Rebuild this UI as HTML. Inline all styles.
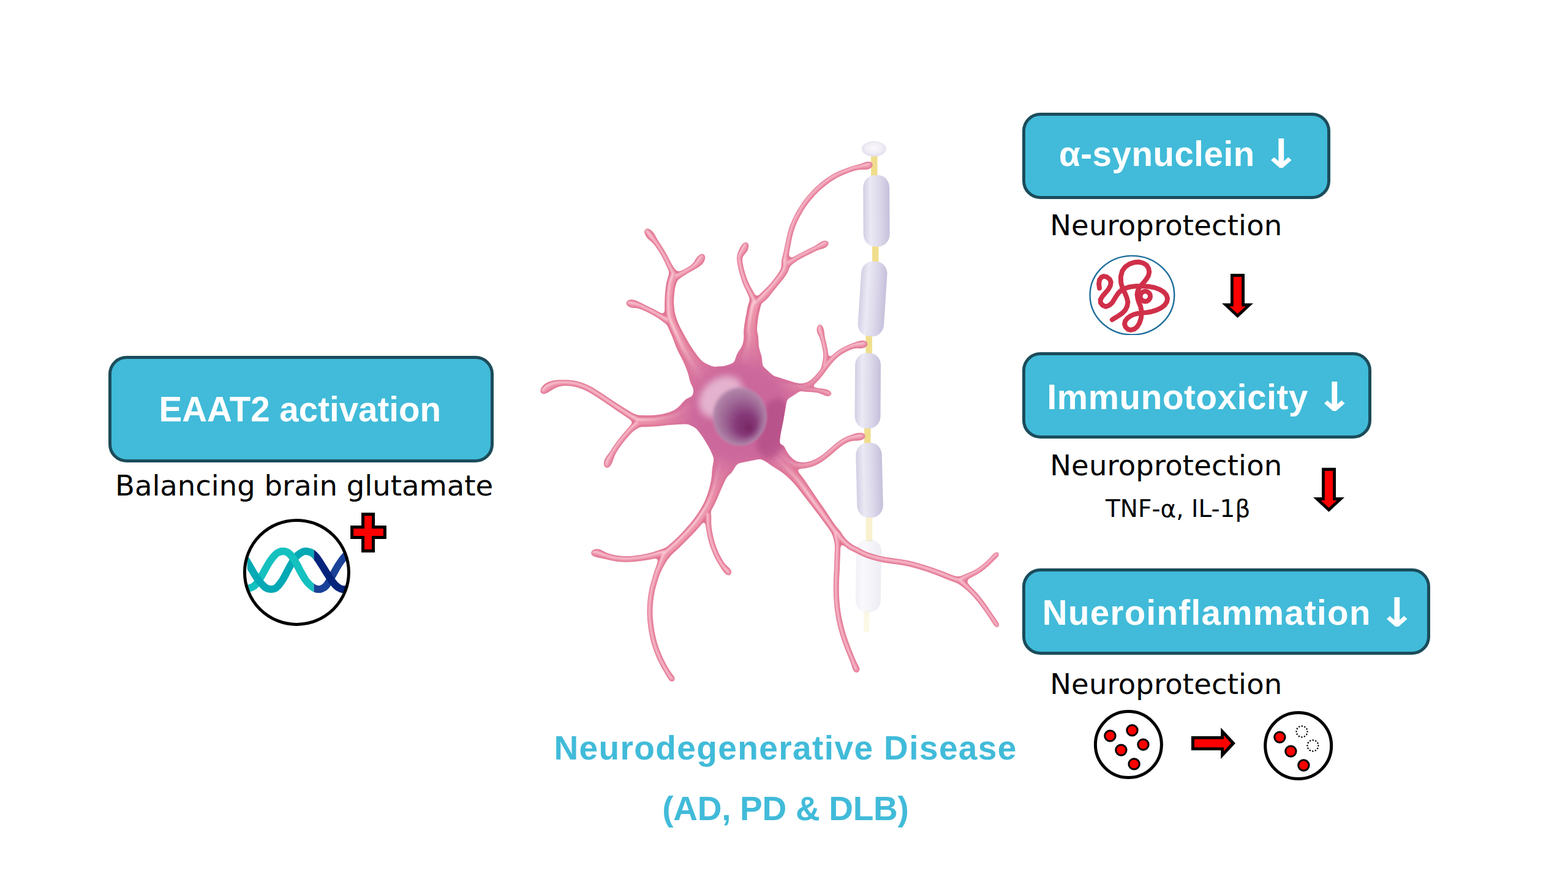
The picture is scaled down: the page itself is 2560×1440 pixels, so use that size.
<!DOCTYPE html>
<html lang="en"><head><meta charset="utf-8"><title>EAAT2 activation – Neurodegenerative Disease</title>
<style>
html,body{margin:0;padding:0;background:#fff}
body{width:2560px;height:1440px;overflow:hidden;position:relative}
svg{position:absolute;left:0;top:0;display:block}
.b{font-family:"Liberation Sans",sans-serif;font-weight:700;fill:#fff}
.r{font-family:"DejaVu Sans","Liberation Sans",sans-serif;font-weight:400;fill:#000}
.t{font-family:"Liberation Sans",sans-serif;font-weight:700;fill:#41bbd9}
.a{font-family:"DejaVu Sans",sans-serif;font-weight:700;fill:#fff;font-size:65.6px}
.box{fill:#41bbd9;stroke:#1b4c5b;stroke-width:5}
</style></head><body>
<svg width="2560" height="1440" viewBox="0 0 2560 1440">
<defs>
<clipPath id="cdna"><circle cx="484.4" cy="934.4" r="84"/></clipPath>
<clipPath id="cl"><rect x="403.7" y="840" width="108.8" height="200"/></clipPath>
<clipPath id="cr"><rect x="512.5" y="840" width="52.7" height="200"/></clipPath>
<clipPath id="cprot"><rect x="1770" y="410" width="160" height="137"/></clipPath>
<radialGradient id="gbulb" cx="0.5" cy="0.45" r="0.6"><stop offset="0" stop-color="#fbfafd"/><stop offset="0.6" stop-color="#efecf5"/><stop offset="1" stop-color="#dcd7e9"/></radialGradient>
<linearGradient id="gmy" x1="0" x2="1" y1="0" y2="0">
<stop offset="0" stop-color="#d3cfe4"/><stop offset="0.28" stop-color="#ebe9f4"/><stop offset="0.62" stop-color="#dcd8ea"/><stop offset="1" stop-color="#c6c0db"/>
</linearGradient>
<filter id="bl1" filterUnits="userSpaceOnUse" x="860" y="220" width="800" height="920"><feGaussianBlur stdDeviation="1.1"/></filter>
<filter id="goo" filterUnits="userSpaceOnUse" x="860" y="220" width="800" height="920" color-interpolation-filters="sRGB"><feGaussianBlur in="SourceGraphic" stdDeviation="3.2" result="b"/><feColorMatrix in="b" mode="matrix" values="1 0 0 0 0 0 1 0 0 0 0 0 1 0 0 0 0 0 9 -4"/></filter>
<filter id="bl2" x="-20%" y="-20%" width="140%" height="140%"><feGaussianBlur stdDeviation="1.6"/></filter>
<filter id="bl6" x="-40%" y="-40%" width="180%" height="180%"><feGaussianBlur stdDeviation="6"/></filter>
<filter id="bl4" x="-30%" y="-30%" width="160%" height="160%"><feGaussianBlur stdDeviation="5"/></filter>
</defs>
<g class="box">
<rect x="179.5" y="583.5" width="624" height="169" rx="27"/>
<rect x="1671.5" y="186.5" width="498" height="136" rx="27"/>
<rect x="1671.5" y="577.5" width="565" height="136" rx="27"/>
<rect x="1671.5" y="930.5" width="661" height="136" rx="27"/>
</g>
<g>
<text class="b" x="259.6" y="688.1" font-size="56.5" letter-spacing="0">EAAT2 activation</text>
<text class="b" x="1729" y="271.2" font-size="56.5" letter-spacing="0.5">α-synuclein <tspan class="a" x="2060.6" y="273.7" letter-spacing="0" textLength="62" lengthAdjust="spacingAndGlyphs">↓</tspan></text>
<text class="b" x="1709.5" y="667.8" font-size="56.5" letter-spacing="0.65">Immunotoxicity <tspan class="a" x="2147.6" y="670.85" letter-spacing="0" textLength="62" lengthAdjust="spacingAndGlyphs">↓</tspan></text>
<text class="b" x="1701.8" y="1020" font-size="56.5" letter-spacing="1.3">Nueroinflammation <tspan class="a" x="2249.6" y="1022.85" letter-spacing="0" textLength="62" lengthAdjust="spacingAndGlyphs">↓</tspan></text>
<text class="r" x="188" y="808.75" font-size="46.5">Balancing brain glutamate</text>
<text class="r" x="1714.2" y="383.9" font-size="46.5" letter-spacing="0.15">Neuroprotection</text>
<text class="r" x="1714.2" y="775.8" font-size="46.5" letter-spacing="0.15">Neuroprotection</text>
<text class="r" x="1714.2" y="1133.2" font-size="46.5" letter-spacing="0.15">Neuroprotection</text>
<text class="r" x="1805" y="843.6" font-size="39">TNF-α, IL-1β</text>
<text class="t" x="904.4" y="1240.4" font-size="55" letter-spacing="1.4">Neurodegenerative Disease</text>
<text class="t" x="1081.3" y="1338.8" font-size="55" letter-spacing="-0.3">(AD, PD &amp; DLB)</text>
</g>
<g>
<g clip-path="url(#cdna)" fill="none" stroke-width="12" stroke-linejoin="round">
<g clip-path="url(#cl)"><path d="M395.0,960.0 397.6,960.3 401.4,960.7 405.0,960.6 408.1,960.0 411.0,959.0 413.8,957.5 416.3,955.6 418.7,953.2 421.2,950.0 424.0,945.6 426.9,940.5 430.0,935.0 433.2,929.2 436.6,923.1 440.0,917.5 443.5,912.6 446.9,908.3 450.0,905.0 452.4,903.0 454.3,902.0 456.2,901.2 458.3,900.5 460.4,900.1 462.5,900.0 464.7,900.2 467.1,900.8 469.4,901.9 471.6,903.4 473.9,905.5 476.2,908.1 478.7,911.5 481.1,915.5 483.8,920.0 486.6,925.2 489.5,930.9 492.5,936.2 495.3,941.2 498.1,945.8 501.2,950.0 504.9,953.9 508.8,957.4 512.5,960.0 515.9,961.5 519.2,962.1 522.5,961.9 525.8,960.9 529.2,959.2 532.5,956.2 535.8,951.7 539.2,945.9 542.5,940.0 545.8,934.2 549.1,928.2 552.5,922.5 556.2,917.0 560.0,911.9 563.8,907.5 567.9,904.2 572.1,901.7 575.0,900.0" stroke="#14c1bf"/><path d="M392.5,900.0 395.5,904.6 399.8,911.2 403.8,917.5 406.9,922.7 409.7,927.7 412.5,932.5 415.4,937.3 418.2,941.9 421.2,946.2 424.7,950.5 428.2,954.4 431.2,957.5 433.4,959.3 435.2,960.3 436.9,961.0 438.8,961.6 440.6,961.8 442.5,961.9 444.4,961.8 446.2,961.6 448.1,961.0 449.9,960.2 451.6,958.9 453.8,956.9 456.4,953.7 459.4,949.8 462.5,945.0 465.7,939.2 469.1,932.6 472.5,926.2 475.8,920.3 479.2,914.7 482.5,910.0 485.9,906.5 489.4,903.8 492.5,901.9 495.1,900.6 497.4,900.0 500.0,900.0 503.2,900.4 506.7,901.4 510.0,903.1 512.9,905.5 515.7,908.5 518.8,912.5 522.3,917.7 526.2,923.9 530.0,930.0 533.8,936.1 537.7,942.2 541.2,947.5 544.4,951.6 547.2,954.9 550.0,957.5 552.8,959.5 555.6,960.9 558.8,961.9 562.7,962.2 567.0,962.0 570.0,961.9" stroke="#03a9b4"/><path d="M456.2,901.2 458.3,900.5 460.4,900.1 462.5,900.0 464.7,900.2 467.1,900.8 469.4,901.9 471.6,903.4 473.9,905.5 476.2,908.1 478.7,911.5 481.1,915.5 483.8,920.0 486.6,925.2 489.5,930.9 492.5,936.2 495.3,941.2 498.1,945.8" stroke="#14c1bf"/></g>
<g clip-path="url(#cr)"><path d="M395.0,960.0 397.6,960.3 401.4,960.7 405.0,960.6 408.1,960.0 411.0,959.0 413.8,957.5 416.3,955.6 418.7,953.2 421.2,950.0 424.0,945.6 426.9,940.5 430.0,935.0 433.2,929.2 436.6,923.1 440.0,917.5 443.5,912.6 446.9,908.3 450.0,905.0 452.4,903.0 454.3,902.0 456.2,901.2 458.3,900.5 460.4,900.1 462.5,900.0 464.7,900.2 467.1,900.8 469.4,901.9 471.6,903.4 473.9,905.5 476.2,908.1 478.7,911.5 481.1,915.5 483.8,920.0 486.6,925.2 489.5,930.9 492.5,936.2 495.3,941.2 498.1,945.8 501.2,950.0 504.9,953.9 508.8,957.4 512.5,960.0 515.9,961.5 519.2,962.1 522.5,961.9 525.8,960.9 529.2,959.2 532.5,956.2 535.8,951.7 539.2,945.9 542.5,940.0 545.8,934.2 549.1,928.2 552.5,922.5 556.2,917.0 560.0,911.9 563.8,907.5 567.9,904.2 572.1,901.7 575.0,900.0" stroke="#1a4298"/><path d="M392.5,900.0 395.5,904.6 399.8,911.2 403.8,917.5 406.9,922.7 409.7,927.7 412.5,932.5 415.4,937.3 418.2,941.9 421.2,946.2 424.7,950.5 428.2,954.4 431.2,957.5 433.4,959.3 435.2,960.3 436.9,961.0 438.8,961.6 440.6,961.8 442.5,961.9 444.4,961.8 446.2,961.6 448.1,961.0 449.9,960.2 451.6,958.9 453.8,956.9 456.4,953.7 459.4,949.8 462.5,945.0 465.7,939.2 469.1,932.6 472.5,926.2 475.8,920.3 479.2,914.7 482.5,910.0 485.9,906.5 489.4,903.8 492.5,901.9 495.1,900.6 497.4,900.0 500.0,900.0 503.2,900.4 506.7,901.4 510.0,903.1 512.9,905.5 515.7,908.5 518.8,912.5 522.3,917.7 526.2,923.9 530.0,930.0 533.8,936.1 537.7,942.2 541.2,947.5 544.4,951.6 547.2,954.9 550.0,957.5 552.8,959.5 555.6,960.9 558.8,961.9 562.7,962.2 567.0,962.0 570.0,961.9" stroke="#04247c"/></g>
</g>
<circle cx="484.4" cy="934.4" r="85" fill="none" stroke="#000" stroke-width="5"/>
<path d="M592.5,839.4H609.5V860.6H628.4V877.5H609.5V899.4H592.5V877.5H574.6V860.6H592.5Z" fill="#fe0000" stroke="#000" stroke-width="5"/>
</g>
<g><polygon points="2009.0,447.0 2032.0,447.0 2032.0,495.3 2046.0,495.3 2020.5,519.0 1995.0,495.3 2009.0,495.3" fill="#000"/><polygon points="2013.8,452.0 2027.2,452.0 2027.2,500.3 2033.7,500.3 2020.5,512.3 2007.3,500.3 2013.8,500.3" fill="#fe0000"/><polygon points="2158.0,763.8 2181.0,763.8 2181.0,812.1 2195.0,812.1 2169.5,835.8 2144.0,812.1 2158.0,812.1" fill="#000"/><polygon points="2162.8,768.8 2176.2,768.8 2176.2,817.1 2182.7,817.1 2169.5,829.1 2156.3,817.1 2162.8,817.1" fill="#fe0000"/>
<polygon points="1945,1202 1993.2,1202 1993.2,1188 2017,1213.5 1993.2,1239 1993.2,1225 1945,1225" fill="#000"/>
<polygon points="1950,1206.8 1998,1206.8 1998,1200.5 2010,1213.5 1998,1226.5 1998,1220.2 1950,1220.2" fill="#fe0000"/>
</g>
<g stroke="#000">
<circle cx="1842.4" cy="1215.6" r="54" fill="#fff" stroke-width="5"/>
<circle cx="2119.7" cy="1217.5" r="54" fill="#fff" stroke-width="5"/>
<g fill="#fe0000" stroke-width="3">
<circle cx="1812.4" cy="1201.4" r="8.7"/><circle cx="1848.5" cy="1192.4" r="8.7"/><circle cx="1866.5" cy="1215.6" r="8.7"/><circle cx="1830.4" cy="1224.6" r="8.7"/><circle cx="1851.6" cy="1247.4" r="8.7"/>
<circle cx="2089.4" cy="1203.6" r="8.7"/><circle cx="2107.4" cy="1226.6" r="8.7"/><circle cx="2128.4" cy="1249.5" r="8.7"/>
</g>
<g fill="none" stroke-width="2.5" stroke-dasharray="0.1 4.61" stroke-linecap="round">
<circle cx="2125.5" cy="1194.4" r="9"/><circle cx="2143.4" cy="1217.4" r="9"/>
</g>
</g>
<g clip-path="url(#cprot)"><ellipse cx="1848.4" cy="482" rx="68.9" ry="64.4" fill="#fff" stroke="#1b6d9c" stroke-width="2.4"/><g fill="none" stroke="#d02f49" stroke-width="7.9" stroke-linecap="round" stroke-linejoin="round"><path d="M1815.8,522.0 1821.1,518.7 1827.0,515.0 1832.5,511.0 1837.0,506.5 1840.1,500.5 1841.4,493.3 1839.6,485.7 1836.6,478.5 1833.0,471.5 1830.2,461.9 1829.8,451.8 1832.3,442.3 1837.1,435.7 1844.1,431.0 1852.3,428.3 1859.8,427.8 1866.5,429.5 1872.1,433.1 1875.3,438.4 1876.3,444.0 1875.2,449.6 1872.0,455.2 1868.0,460.4 1863.8,465.2 1860.0,470.0 1857.5,475.1 1856.5,480.8 1857.6,487.8 1859.7,494.5 1862.2,500.6 1863.5,506.8 1863.7,513.4 1862.7,520.4 1860.2,527.7 1856.7,533.4 1852.3,537.1 1846.7,538.8 1841.5,537.6 1837.7,534.0 1836.0,529.2 1837.1,524.2 1840.8,519.4 1846.2,515.6 1852.2,513.0 1858.5,511.6 1865.4,510.8 1872.4,510.1 1879.4,509.0 1887.9,506.4 1895.4,502.9 1901.2,498.5 1905.0,493.1 1906.1,487.4 1904.4,481.9 1900.1,476.8 1893.4,472.6 1884.6,469.4 1874.3,467.7 1863.6,467.1 1853.3,467.3 1844.7,468.4 1837.1,470.7 1830.4,474.1 1826.0,478.4 1822.4,483.5 1819.0,489.2 1815.7,494.3 1811.2,498.4 1805.4,500.6 1800.1,498.4 1796.9,494.3 1796.6,489.2 1800.0,483.6 1804.7,478.1 1809.6,472.5 1812.9,466.1 1813.7,460.4 1811.7,455.8 1806.9,452.1 1802.1,451.0 1798.1,452.7 1795.0,457.1 1794.1,463.6 1795.0,470.4"/><circle cx="1869.8" cy="483.8" r="8.2"/></g></g>
<g id="neuron"><g fill="none" stroke="#f0de8c" stroke-width="10.5" stroke-linecap="butt">
<path d="M1427.3,252V290"/><path d="M1429.2,400V430"/><path d="M1418.6,546V580"/><path d="M1416.3,696V727"/>
<path d="M1419,843V884" opacity="0.42"/><path d="M1415,998L1414.6,1032" opacity="0.22" stroke-width="9"/>
</g>
<ellipse cx="1426.8" cy="243" rx="20" ry="12.5" fill="url(#gbulb)"/>
<g transform="translate(1430.6,286.0) rotate(-0.30)" opacity="1.0"><rect x="-21.5" y="0" width="43.0" height="116.5" rx="18.5" ry="20.4" fill="url(#gmy)"/></g>
<g transform="translate(1428.5,426.7) rotate(3.74)" opacity="1.0"><rect x="-21.2" y="0" width="42.5" height="122.6" rx="18.3" ry="20.2" fill="url(#gmy)"/></g>
<g transform="translate(1417.2,576.4) rotate(0.37)" opacity="1.0"><rect x="-21.0" y="0" width="42.0" height="123.1" rx="18.1" ry="19.9" fill="url(#gmy)"/></g>
<g transform="translate(1418.0,723.0) rotate(-1.41)" opacity="1.0"><rect x="-21.2" y="0" width="42.5" height="122.0" rx="18.3" ry="20.2" fill="url(#gmy)"/></g>
<g transform="translate(1418.8,880.8) rotate(0.87)" opacity="0.3"><rect x="-20.5" y="0" width="41.0" height="118.6" rx="17.6" ry="19.5" fill="url(#gmy)"/></g><defs><g id="nb"><path d="M1052.4,381 1053.4,383.1 1054.8,386.2 1056.7,389.1 1059.1,391.2 1061.8,393.1 1064.6,395.4 1067.2,398.4 1069.9,401.8 1072.7,405.8 1075.7,410.5 1078.9,415.8 1081.9,421.1 1084.6,426.3 1087.1,431.7 1089.4,436.7 1091.6,441.6 1093.5,446 1094.7,449.1 1096.7,451.2 1099.5,452 1102.4,451.3 1104.5,449.4 1105.3,446.6 1104.6,443.7 1102.8,441 1100.2,437 1097.5,432.6 1094.9,427.9 1092.2,422.5 1089.4,417 1086.2,411.5 1082.9,406.1 1079.8,401.1 1077,396.8 1074.5,393.1 1072.3,389.6 1070.6,386.2 1069.2,383 1067.7,380.3 1065.4,377.9 1062.9,375.8 1061,374.3 1058.8,372.6 1056,372.2 1053.4,373.3 1051.7,375.6 1051.3,378.4Z"/><path d="M1141.8,416.3 1140.4,417.6 1138.6,419.2 1136.9,421 1135.4,423.5 1134,426.5 1132.2,429.2 1130,431.4 1127.2,433.6 1124.1,435.7 1120.6,437.8 1116.9,439.8 1113.1,441.7 1108.9,443.6 1104.7,445.4 1101.7,446.6 1099.6,448.6 1098.8,451.4 1099.4,454.2 1101.4,456.3 1104.2,457.2 1107,456.5 1109.7,454.7 1113.6,452.1 1117.5,449.6 1121.1,447.3 1124.8,445.1 1128.4,443 1131.9,441.1 1135.5,439.2 1139,437.1 1142.5,434.7 1145.8,432.2 1148.4,429.6 1150.1,426.6 1150.9,423.7 1151.3,421.8 1152,419 1151.3,416.3 1149.3,414.3 1146.5,413.6 1143.8,414.3Z"/><path d="M1092.6,446.5 1091.4,449.9 1089.7,455.1 1088.2,460.9 1087.2,466.6 1086.5,472.2 1086,477.7 1085.6,483.1 1085.3,488.6 1085.2,494.1 1085.1,499.7 1085.2,505.3 1085.3,510.5 1085.5,514.8 1085.9,518.8 1086.8,523.1 1088.2,527.7 1090,532.2 1091.8,536.7 1093.6,540.8 1095.5,544.9 1097.5,549.6 1099.9,555.8 1102.6,563.2 1105.7,570.7 1109.2,577.7 1112.7,584.4 1115.8,590.6 1118.3,596.3 1120.7,602.2 1123.1,608.6 1124.9,615.5 1126.5,622.5 1129,628.9 1133.4,634.9 1138.5,640.1 1142,643.6 1176.1,612.7 1173.1,608.9 1168.7,603.7 1164.1,599.2 1158.9,596.4 1153.3,594.1 1148.2,591.4 1144.2,587.8 1140.6,583.4 1136.7,578.2 1132.6,572.4 1128.6,566.5 1124.9,560.6 1121.3,554.3 1117.6,547.7 1114.4,541.7 1111.8,536.9 1109.9,533.2 1108.2,529.6 1106.5,525.6 1105.1,521.7 1103.9,518.2 1103,515.3 1102.2,512.5 1101.5,508.9 1100.9,504.3 1100.4,499.2 1100.2,494.1 1100.2,489.1 1100.4,484.1 1100.9,479.2 1101.5,474.1 1102.3,469.1 1103.4,464.7 1104.9,460.3 1106.9,455.8 1108.4,452.6 1108.8,448.2 1107.1,444.2 1103.5,441.6 1099.2,441.2 1095.2,442.9Z"/><path d="M1026,500.4 1027.1,501.1 1028.9,502.1 1031.2,502.8 1034,502.9 1037,502.7 1040.2,502.9 1043.9,504 1048.2,505.7 1052.4,507.5 1056.6,509.5 1060.8,511.5 1064.7,513.7 1068.3,515.7 1071.8,517.8 1075.4,520.1 1079.7,523.2 1084,526.4 1087.1,528.7 1090.4,529.6 1093.7,528.6 1096.1,526.2 1096.9,522.9 1096,519.6 1093.5,517.2 1090,515.8 1085,513.8 1080.2,511.7 1076.4,509.8 1072.8,507.8 1069,505.7 1064.9,503.6 1060.6,501.5 1056.3,499.4 1052,497.2 1047.7,495 1043.5,493.1 1039.7,491.3 1036.4,489.9 1033.8,489 1031.5,488.8 1029.5,489.1 1028.1,489.3 1025.2,489.5 1022.8,491.1 1021.5,493.8 1021.7,496.7 1023.3,499.1Z"/><path d="M1213,397.6 1211.8,399 1210.2,401 1208.8,403.3 1207,406.9 1204.8,412 1203.1,417.6 1202.9,422.9 1203.5,427.6 1204.3,431.7 1204.9,435.8 1205.8,440 1207.1,444.9 1208.9,451.1 1211.1,457.9 1213.3,464.2 1215.5,469.1 1217.6,473.2 1219.5,477.2 1221.5,481.6 1223.4,486 1225.1,490 1226.4,493.4 1227.3,496.3 1227.9,498.3 1230.4,500.9 1233.8,501.9 1237.3,501.1 1239.9,498.6 1240.9,495.2 1240.1,491.7 1238.8,490.1 1236.9,487.9 1234.9,485 1232.7,481.4 1230.4,477.1 1228,472.8 1225.8,468.9 1223.7,465.1 1221.7,460.8 1219.5,455 1217.2,448.5 1215.4,442.6 1214.2,438 1213.4,434.2 1212.7,430.3 1212,426.2 1211.5,422.7 1211.9,419.9 1214,417 1217.3,413.6 1220.3,409.9 1221.7,406.2 1222.2,403.3 1222.4,401.4 1222.7,398.8 1221.7,396.4 1219.6,394.8 1217,394.5 1214.5,395.5Z"/><path d="M1223.6,491.4 1222.9,493.3 1221.9,496.2 1220.9,499.5 1220.2,503 1219.5,506.9 1218.8,510.9 1218,515 1217.1,519.3 1216.3,523.9 1215.5,529.3 1214.7,535.2 1214.1,540.9 1214.3,545.9 1214.7,548.6 1214.5,550.5 1214.1,554.3 1213.4,559.4 1212,564.3 1209.3,568.9 1205.9,573.5 1203,578.6 1201,584.4 1199.6,590.2 1198.7,594.2 1244.4,599.6 1244.4,595.5 1244.4,589.7 1243.9,583.9 1242.4,578.6 1240.5,572.8 1239,566.9 1238.4,561 1238.3,555.1 1238,549.5 1237.1,544.9 1236.2,542.5 1235.9,541 1235.9,537 1236.3,531.8 1236.8,526.7 1237.2,522.4 1237.8,518.5 1238.4,514.7 1239.2,511 1240.2,507.5 1241,504.3 1241.6,501.3 1242,498.5 1242.4,496.6 1242.4,491.5 1239.9,487.1 1235.6,484.6 1230.5,484.6 1226.1,487.1Z"/><path d="M1418.3,263.8 1417.2,263.8 1415.8,263.7 1414.2,264 1411.9,264.9 1408.8,266.2 1405.5,267.5 1402.1,268.4 1398.4,269.3 1394.2,270.4 1389.2,272.1 1383.7,274 1378.2,276 1372.9,278.1 1367.5,280.4 1362,283.1 1356.6,286.3 1351.2,289.8 1345.9,293.6 1340.5,297.8 1335.1,302.4 1329.8,307.3 1324.8,312.4 1319.9,317.9 1315.4,323.3 1311.4,328.6 1307.7,333.9 1304.2,339.3 1300.7,345.1 1297.5,351.1 1294.6,356.9 1292.1,362.4 1290,367.7 1288.1,373.1 1286.6,378.5 1285.3,383.8 1284.1,389.1 1282.9,394.5 1281.8,399.8 1280.8,404.8 1279.8,409.3 1278.9,413.5 1278,417.4 1277.1,421.1 1276.1,424.5 1275.5,426.8 1275.9,429.9 1277.9,432.4 1280.8,433.6 1283.9,433.1 1286.4,431.2 1287.6,428.2 1287.5,425.9 1287.5,422.5 1287.6,418.9 1288,415.1 1288.7,411 1289.5,406.5 1290.4,401.5 1291.4,396.2 1292.4,390.9 1293.6,385.7 1294.8,380.7 1296.3,375.7 1298,370.7 1300,365.7 1302.3,360.6 1305.1,355.1 1308.2,349.3 1311.4,343.8 1314.8,338.6 1318.3,333.6 1322.1,328.6 1326.4,323.4 1331,318.3 1335.8,313.4 1340.7,308.8 1345.9,304.4 1351,300.4 1356.1,296.8 1361.1,293.6 1366.1,290.6 1371.1,288.1 1376.1,285.8 1381.2,283.7 1386.5,281.6 1391.7,279.8 1396.5,278.3 1400.3,277.4 1403.7,276.9 1407,276.6 1410.5,276.7 1413.9,277 1417.1,277 1419.7,276 1421.4,274.8 1422.3,274 1424.6,272.3 1425.7,269.7 1425.4,266.9 1423.7,264.6 1421.1,263.5Z"/><path d="M1347.1,392.9 1345.8,392.9 1344,393 1341.9,393.7 1339.2,395.4 1336.1,397.8 1332.5,400.2 1328.6,402.4 1324.3,404.5 1320,406.6 1315.9,408.7 1311.7,410.8 1307.5,412.9 1303.1,415.3 1298.8,417.6 1294.6,420 1290.4,422.3 1286.5,424.5 1283.8,426 1282,428.1 1281.5,430.7 1282.4,433.2 1284.5,435 1287.1,435.5 1289.6,434.6 1292,432.7 1295.4,429.9 1299.1,427.2 1302.9,424.8 1307.1,422.5 1311.3,420.2 1315.4,418.1 1319.5,416 1323.7,414 1328,411.8 1332.2,409.7 1336.2,407.9 1340.2,406.8 1344,406 1347.2,405 1349.3,403.6 1350.6,402.2 1351.4,401.2 1353.2,399.6 1353.9,397.3 1353.4,394.9 1351.8,393.1 1349.4,392.3Z"/><path d="M1276.1,423.8 1276.1,427.4 1276.1,432.2 1275.7,436.1 1275,438.5 1273.9,440.9 1272.4,443.6 1270.5,446.5 1268.4,449.6 1266,452.7 1263.7,455.8 1261.2,458.9 1258.7,461.9 1256,464.9 1253.3,468 1250.5,470.9 1247.3,473.9 1244.1,476.7 1241.3,479.4 1239,482 1236.8,484.7 1234.4,487.5 1231.8,490.1 1229.5,492.4 1227.9,493.9 1226.6,497 1226.9,500.3 1228.9,503.1 1232,504.4 1235.3,504.1 1238.1,502.1 1239.2,500.3 1240.8,497.8 1242.6,495.5 1245,493.8 1248,491.9 1251.2,489.4 1254.1,486.2 1256.9,482.6 1259.5,479.1 1262.2,475.8 1264.9,472.5 1267.5,469.3 1270.1,466.1 1272.7,462.9 1275.2,459.8 1277.7,456.7 1280.3,453.5 1282.6,450.2 1284.7,447 1286.7,443.4 1288.3,438.9 1289.2,433.4 1289.6,427.9 1289.9,424.2 1289.1,420.8 1286.7,418.2 1283.2,417.1 1279.8,417.9 1277.2,420.3Z"/><path d="M1411.1,556.2 1410,555.9 1408.6,555.7 1406.5,555.8 1403.3,556.5 1399.1,557.7 1394.5,559.2 1390.1,560.9 1385.7,562.7 1381.3,564.7 1376.9,566.9 1372.5,569.4 1368.2,572.1 1364.1,575.2 1360.3,578.5 1356.7,582 1353.3,585.6 1350.1,589.4 1347,593.3 1343.8,597.5 1340.7,601.8 1337.6,605.8 1334.5,609.6 1331.5,613.1 1328.5,616.2 1325.2,619.2 1321.8,621.9 1318.5,623.9 1314.9,625.2 1311.1,626 1307.2,626.3 1303.5,626 1299.5,625.1 1295.3,624 1291,622.6 1286.4,621.1 1281,619.5 1275.2,617.5 1269.3,615.5 1263.5,614.7 1257.8,616 1252.9,618.2 1249.7,619.8 1266.5,662.7 1269.8,661.7 1274.2,660.4 1277.7,658.4 1280.3,655.1 1282.7,651 1285.2,647.4 1288.2,644.9 1291.9,643 1296,641.3 1300,639.9 1304.4,638.8 1309,637.4 1313.6,635.9 1318.2,634.2 1322.8,632 1327.1,629.2 1331,626 1334.7,622.5 1338.1,618.9 1341.2,615 1344.3,611.1 1347.5,606.9 1350.6,602.6 1353.7,598.6 1356.7,594.8 1359.6,591.3 1362.7,588 1366,584.8 1369.5,581.8 1373.1,579.1 1376.9,576.7 1380.9,574.4 1384.9,572.5 1389,570.8 1393,569.4 1396.8,568.6 1400.6,568.5 1404.6,568.9 1408.2,568.9 1410.6,568.3 1412.1,567.5 1413,566.9 1415.6,565.7 1417.2,563.4 1417.4,560.6 1416.2,558 1413.9,556.4Z"/><path d="M1333.9,533.8 1333.6,535.3 1333.1,537.8 1333.4,541 1334.8,544.5 1336.8,548 1338.5,551.7 1339.8,555.7 1340.8,559.8 1341.8,564 1342.7,568.2 1343.5,572.2 1344.1,576 1344.3,579.5 1344.2,582.8 1343.9,586.1 1343.2,589.9 1342.2,593.8 1341.4,596.5 1341.6,598.9 1342.9,600.9 1345,602 1347.4,601.9 1349.4,600.6 1350.4,598.5 1350.9,595.6 1351.6,591.4 1352,587 1352.2,583.1 1352.2,579.3 1351.9,575.2 1351.3,570.9 1350.4,566.5 1349.5,562.3 1348.4,558 1347.4,553.7 1346.5,549.5 1345.9,545.4 1345.6,541.4 1345.3,538.3 1344.7,536.2 1343.9,534.4 1343.3,533.1 1342.5,530.8 1340.6,529.2 1338.2,528.8 1335.9,529.6 1334.4,531.4Z"/><path d="M1355.6,638.7 1354.7,638 1353.3,637 1351.2,636.1 1348.2,635.4 1344.3,634.8 1340.3,634.3 1336.4,633.7 1332.6,633.2 1328.8,632.8 1325,632.5 1321.4,632.3 1318,631.9 1314.2,631.1 1310.2,630.1 1307.4,629.4 1305.2,629.6 1303.2,630.8 1302.2,632.9 1302.4,635.2 1303.6,637.1 1305.7,638.1 1308.6,638.5 1312.7,639.2 1317,639.7 1320.9,639.9 1324.6,640.1 1328.1,640.3 1331.7,640.7 1335.2,641.2 1338.5,642 1341.8,643.4 1345,645.1 1347.8,646.4 1350,646.9 1351.7,646.9 1352.8,646.9 1355,647 1357,646.1 1358.3,644.2 1358.4,642 1357.5,640Z"/><path d="M891.3,642.5 893,641.5 895.3,640.2 897.6,638.9 900.2,637.2 903,635.2 906.2,633.4 910.2,631.9 915,630.6 920.1,629.8 925.8,629.8 931.8,630.3 937.8,631.3 943.6,632.8 949.6,634.7 955.5,637.2 961.4,640.3 967.5,643.9 973.6,647.8 979.8,651.8 986.1,656 992.3,660.3 998.6,664.6 1004.8,668.9 1010.9,673.1 1016.9,677.1 1022.7,680.9 1028,684.5 1033,688.2 1037.4,691.7 1040.4,694 1044.4,695 1048.3,693.9 1051.1,691 1052,687 1050.9,683.1 1048,680.3 1044.4,679.1 1039.3,677.2 1033.8,674.9 1028.4,671.8 1022.6,668.2 1016.6,664.4 1010.4,660.5 1004,656.4 997.7,652.2 991.4,648 985.2,643.8 978.9,639.7 972.5,635.7 966.1,631.8 959.5,628.4 952.9,625.7 946.4,623.5 939.7,621.8 932.9,620.8 926.2,620.3 919.9,620.2 913.8,620.2 908,620.5 902.5,621.3 897.4,622.7 892.9,624.6 889.2,626.7 886.2,629.5 884.2,632.3 883.1,634.1 881.5,636.7 881.5,639.7 883,642.4 885.6,643.9 888.6,644Z"/><path d="M996.4,760.9 997.3,759.4 998.5,757.5 999.7,755.1 1000.8,751.7 1002.2,747.4 1003.9,743 1006,739 1008.5,734.9 1011.3,730.8 1014.6,726.3 1018.2,721.5 1022,717 1025.6,712.7 1029.1,708.6 1032.8,705 1037.2,701.7 1041.9,698.6 1045.3,696.5 1047.3,693.7 1047.6,690.3 1046.2,687.2 1043.4,685.2 1040,684.9 1036.9,686.3 1034.1,689.3 1030.1,693.6 1026,698.1 1022.2,702.4 1018.5,706.7 1014.9,711.1 1011.1,715.8 1007.3,720.7 1003.7,725.5 1000.7,730 998.1,734.2 995.5,738.2 992.5,742.1 989.5,745.9 987.2,749.5 986,753.1 985.8,756.1 985.8,757.9 985.8,760.7 987.2,763.2 989.6,764.6 992.4,764.7 994.9,763.3Z"/><path d="M1042.6,697.1 1046.4,697 1052,696.9 1057.7,696.7 1063,696.5 1068.4,696.3 1074,695.9 1079.6,695.3 1085.1,694.6 1090.4,694 1096,693.6 1101.7,693.3 1107.5,693 1113,692.5 1118,692.2 1122.9,692 1128.2,692.3 1132.9,693.1 1136.1,693.9 1139.7,693.5 1144.4,692.3 1147.9,691.3 1138.9,646.2 1135.1,646.7 1129.2,647.7 1122.7,649.9 1117.3,653.7 1113.8,658.1 1110.9,661.7 1107.7,664.7 1104.6,667.3 1101.2,669.5 1097.1,671.5 1092.2,673.2 1087.1,674.7 1082,676 1077.1,676.9 1072.2,677.5 1067.3,678 1062.3,678.2 1057.3,678.3 1051.9,678.2 1046.5,678.1 1042.7,677.9 1037.9,679.2 1034.4,682.7 1033.1,687.4 1034.3,692.2 1037.8,695.7Z"/><path d="M1160.4,703.3 1161.3,708.3 1162.6,715.2 1164.2,723.2 1165.5,731.1 1166.3,737.8 1166.2,745.1 1165.3,752.2 1164,758.9 1162.9,765.3 1162.3,772.1 1162,777.4 1161.4,782.5 1160.2,788.6 1158.7,795 1157,801.3 1154.9,807.6 1152.6,813.8 1150.1,819.4 1147.6,824.5 1144.8,829.3 1141.6,834.4 1138,839.9 1134.1,845.6 1129.8,851.2 1125.2,856.8 1120.1,862.6 1114.9,868.2 1109.7,873.7 1104.4,878.9 1099.5,883.6 1095.1,887.4 1090.8,890.9 1086.8,894.2 1083.2,897.4 1080.3,900.2 1078.5,902.1 1076.5,905.7 1076.7,909.9 1078.9,913.4 1082.6,915.3 1086.8,915.2 1090.3,912.9 1091.9,911 1094.2,908.2 1097,905.2 1100.3,902 1104.5,898.3 1109.2,893.9 1114.3,889 1119.7,883.6 1125.1,878 1130.6,872.4 1136.1,866.6 1141.4,860.7 1146.2,854.7 1150.6,848.8 1154.6,843.1 1158.3,837.8 1161.6,832.5 1164.9,826.8 1168,820.5 1170.9,813.9 1173.7,807.5 1176.4,801 1179.1,794.7 1181.7,788.7 1184.2,783.7 1186.5,779.5 1189.6,774.7 1192.6,770.1 1196.3,764.6 1200.7,758.5 1205.7,752.2 1210.8,746.6 1216.8,740.6 1222.8,734.9 1228,730.1 1231.6,726.7Z"/><path d="M970.3,908.7 971.6,909 972.9,909.5 974.5,909.9 977.6,910.5 982.2,911.4 987.2,912.4 992.3,913.7 997.7,915 1003.6,916.2 1009.9,917 1016.5,917.6 1023.1,917.8 1029.7,917.6 1036.1,916.9 1042.5,916.2 1049,915.4 1055.5,914.4 1061.7,913.4 1067.6,912.2 1073,911.1 1077.6,910.3 1081.6,910 1085.2,909.9 1087.7,909.9 1091.2,908.3 1093.4,905.1 1093.8,901.2 1092.2,897.7 1089,895.5 1085.2,895.1 1082.8,895.9 1079.2,897.1 1074.9,898.4 1070.1,900 1065,901.7 1059.5,903.2 1053.7,904.5 1047.5,905.7 1041.2,906.6 1035.1,907.4 1029.1,907.9 1023.1,908.1 1017,907.9 1010.9,907.4 1005.2,906.6 999.9,905.5 994.9,904.2 990.3,902.6 986.1,900.5 982,898.1 978,896.3 974,895.9 971.2,896.5 969.7,897 966.8,897.9 964.8,900.1 964.1,903.1 965.1,906 967.3,908Z"/><path d="M1077.5,905.2 1076.3,909.3 1074.5,915.1 1072.6,920.9 1070.8,926.1 1068.9,931.5 1067,937.2 1065,944.1 1063.1,951.1 1061.7,956.1 1062.1,955.8 1061.3,956.4 1060.8,958.5 1059.9,963.6 1058.7,970.5 1057.7,977.6 1057.1,984 1056.7,990.4 1056.5,996.8 1056.6,1003.3 1056.9,1009.7 1057.5,1016 1058.2,1022.4 1059.1,1028.8 1060.2,1035.2 1061.5,1041.6 1063.1,1048 1065,1054.4 1067.2,1060.9 1069.6,1067.4 1072.2,1073.7 1075,1079.8 1078,1085.7 1081,1091.2 1084,1096.6 1087.1,1101.6 1089.5,1105.7 1091.2,1108.6 1092.4,1110.6 1093.1,1111.8 1095.3,1113.5 1098,1113.9 1100.6,1112.8 1102.2,1110.6 1102.6,1107.9 1101.6,1105.4 1100.6,1104.4 1099.2,1103 1097.4,1100.6 1094.8,1096.8 1091.7,1092 1088.7,1086.9 1085.8,1081.6 1083,1075.9 1080.3,1070.1 1077.8,1064.1 1075.5,1057.9 1073.4,1051.8 1071.7,1045.7 1070.2,1039.6 1068.9,1033.5 1067.8,1027.4 1067,1021.3 1066.3,1015.2 1065.8,1009.1 1065.4,1003 1065.4,996.9 1065.6,990.8 1066,984.8 1066.7,978.7 1067.7,972 1068.9,965.2 1069.8,960.2 1069.8,959.9 1069.1,961.7 1070.5,958.9 1072,953.6 1074,946.7 1076.1,940.3 1078.3,935.1 1080.5,930.2 1083,925.3 1085.9,920.1 1089,914.9 1091.2,911.4 1091.8,907.5 1090.5,903.9 1087.4,901.4 1083.6,900.8 1080,902.2Z"/><path d="M1151.1,840.3 1151.3,844.8 1151.6,851.2 1152.1,857.9 1153,864.3 1154.1,870.8 1155.5,877.2 1157.1,883.7 1159,890.2 1161.2,896.5 1163.7,902.8 1166.5,908.8 1169.2,914.3 1172,919.1 1174.7,923.5 1177.3,927.5 1179.7,931.2 1181.9,934.3 1183.5,936.4 1184.7,937.5 1185.7,937.9 1186.4,938.3 1188.3,939.8 1190.7,940.3 1193,939.5 1194.5,937.7 1195,935.3 1194.2,933 1194.1,932.1 1193.7,930.6 1192.4,928.6 1190.1,926.5 1187.3,924.5 1184.6,921.9 1182.1,918.6 1179.6,914.6 1177,910.1 1174.4,904.9 1171.8,899.3 1169.5,893.5 1167.4,887.5 1165.7,881.4 1164.2,875.3 1162.9,869.1 1161.9,863 1161.3,857.1 1161.1,850.9 1161.3,844.7 1161.4,840.3 1160.7,837.7 1158.8,835.8 1156.2,835.1 1153.6,835.8 1151.7,837.7Z"/><path d="M1407.2,706.6 1405.7,706.6 1403.6,706.5 1400.9,706.8 1397.4,707.6 1392.8,708.9 1388.1,710.5 1383.5,712.3 1379.1,714.3 1374.6,716.8 1370.1,719.8 1365.8,723.2 1361.5,726.6 1357.3,730.3 1353.1,734 1349,737.5 1345,740.8 1341,743.9 1337,746.6 1333.1,748.8 1329.2,750.7 1325.3,752.3 1321.4,753.5 1317.6,754.4 1313.8,754.9 1309.9,755 1306,754.8 1302.7,754.1 1300.1,753.2 1298,751.9 1295.7,750.3 1293.3,748.3 1290.9,746 1288.7,743.6 1286.9,741.1 1285.1,738.4 1283.4,735.3 1281.6,731.4 1279.8,727.2 1278.4,724.2 1256.6,742 1259.3,744 1263.2,746.9 1267.2,749.7 1270.6,752.2 1274,754.6 1277.6,757 1281.4,759.2 1285.3,761.2 1289.3,762.9 1293.1,764 1296.9,764.8 1301.1,765.2 1305.6,765.3 1310.3,765.1 1315,764.5 1319.5,763.6 1324,762.4 1328.5,760.9 1332.9,758.9 1337.3,756.7 1341.7,754.1 1346.1,751.1 1350.4,747.8 1354.7,744.3 1359,740.7 1363.1,736.9 1367.2,733.4 1371.3,730.1 1375.3,727 1379.2,724.4 1383,722.4 1386.9,720.9 1390.7,719.8 1394.7,719.5 1399,719.6 1402.8,719.5 1405.7,718.8 1407.8,718 1409.1,717.4 1411.7,716.2 1413.3,713.9 1413.5,711.1 1412.3,708.5 1410,706.9Z"/><path d="M1227.2,744.9 1232.4,746.4 1239.9,748.6 1246.9,751.4 1252.3,754.7 1256.7,758.1 1260.7,761.1 1264.9,763.6 1269.3,766.2 1273.7,769.1 1277.9,772.1 1281.8,775.2 1285.7,778.6 1289.9,782.6 1294.2,786.9 1298.4,791.5 1302.5,796.6 1306.8,802.3 1311.2,808 1315.5,813.6 1319.9,819.2 1324.3,824.8 1328.6,830.5 1333,836.2 1337.1,841.6 1341.1,847 1345,852.2 1348.5,856.9 1351.5,861.1 1354.1,864.7 1356.3,867.9 1358.1,871 1359.5,873.7 1360.5,875.5 1363.3,877.8 1366.9,878.5 1370.4,877.2 1372.7,874.4 1373.3,870.7 1372,867.3 1370.6,865.8 1368.5,863.6 1366.2,860.8 1363.9,857.7 1361.3,854.1 1358.4,849.9 1355.2,845.1 1351.6,839.6 1347.9,834 1343.9,828.2 1339.8,822.3 1335.7,816.5 1331.7,810.6 1327.8,804.7 1323.8,798.9 1319.9,792.9 1315.8,786.9 1311.6,781 1307.4,775.5 1303.2,770.5 1299.3,765.8 1295.7,761.4 1292.4,757.4 1289.4,753.4 1286.7,749 1283.9,744.4 1280.6,739.6 1276.5,735.3 1272.4,731.6 1269.3,727.4 1267.1,721.2 1265.3,714 1264,708.8Z"/><path d="M1359.2,874.2 1360.3,877.8 1361.9,882.9 1362.9,888.2 1363.1,893.3 1362.9,899 1362.6,905.5 1362.4,912.9 1362.2,920.9 1361.9,928.9 1361.5,936.6 1361.1,944.5 1360.9,952.4 1360.8,960.3 1360.9,968.2 1361.2,976.2 1361.8,984.1 1362.5,992.1 1363.6,1000 1364.9,1008 1366.5,1015.9 1368.4,1023.9 1370,1029.9 1371.7,1036 1373.6,1042 1375.5,1047.7 1378.1,1054.9 1380.8,1061.8 1383.4,1068.2 1385.9,1074.5 1388.4,1080.4 1390.3,1085.5 1391.6,1089.7 1392.4,1093.1 1393,1095.4 1394.8,1097.8 1397.7,1099 1400.7,1098.6 1403.2,1096.7 1404.3,1093.9 1403.9,1090.8 1402.6,1088.9 1400.8,1085.9 1398.7,1082 1396.5,1077 1394.1,1071.2 1391.6,1064.9 1389,1058.5 1386.4,1051.8 1383.9,1044.8 1382,1039.3 1380.2,1033.4 1378.5,1027.6 1377,1021.7 1375.2,1014.1 1373.6,1006.4 1372.3,998.7 1371.3,991.1 1370.6,983.4 1370,975.7 1369.7,968 1369.7,960.3 1369.7,952.6 1370,944.9 1370.5,937.1 1370.9,929.3 1371.2,921.2 1371.5,913.2 1371.8,905.8 1372,899.3 1372.2,893.3 1372.1,887.4 1371.5,881.2 1370.7,875.6 1370.2,871.7 1368.8,869.2 1366.4,867.6 1363.4,867.5 1360.9,868.8 1359.3,871.3Z"/><path d="M1362.2,874.5 1364.4,877.1 1367.7,881 1371.5,885.1 1375.8,889.1 1380.5,893 1385.1,896.5 1389.1,898.8 1392.6,900.4 1396.3,902 1400.9,904.4 1406.3,907.2 1412.3,909.9 1419,912.3 1426.1,914.4 1433.3,916.3 1440.7,917.9 1448.2,919.2 1455.6,920.3 1462.9,921.3 1470.2,922.3 1477.3,923.4 1484.4,925 1491.5,926.8 1498.7,928.8 1506,931 1513.4,933.3 1520.4,935.7 1526.9,938.2 1533,940.6 1538.8,942.9 1544.3,945.2 1549.6,947.3 1554.7,949.3 1560,951 1564.9,952.5 1568.3,953.4 1571.1,953.4 1573.5,951.9 1574.9,949.4 1574.8,946.5 1573.3,944.1 1570.8,942.8 1567.4,942.2 1562.6,941.3 1557.8,940.1 1553.1,938.4 1548,936.2 1542.4,933.9 1536.4,931.7 1530.1,929.4 1523.4,927.1 1516.3,924.7 1508.8,922.2 1501.3,920 1493.9,917.9 1486.5,916 1479,914.4 1471.5,913.2 1464.1,912.2 1456.9,911.2 1449.6,910.1 1442.4,908.9 1435.4,907.4 1428.6,905.6 1421.9,903.6 1415.8,901.4 1410.3,898.9 1405.3,896.2 1400.5,893.6 1396.5,891.7 1393.5,890.4 1390.6,888.5 1386.8,885.5 1382.6,881.7 1379.1,878 1376.3,874.2 1373.9,870.3 1372.2,867.4 1369.7,865.4 1366.6,864.9 1363.7,866 1361.6,868.4 1361.1,871.5Z"/><path d="M1571.8,952.3 1574.7,950.1 1578.8,947 1583.3,943.9 1588.1,941.4 1593.5,938.8 1599,935.7 1604.2,932 1609.1,928.1 1613.6,924.2 1617.8,920.2 1621.6,916.3 1624.8,913.2 1627.3,910.9 1629.3,909.2 1630.6,908.1 1631.8,906 1631.8,903.7 1630.6,901.6 1628.5,900.4 1626.2,900.4 1624.1,901.6 1623,902.9 1621.3,904.9 1618.9,907.4 1615.9,910.8 1612.2,914.6 1608.3,918.3 1604,922 1599.4,925.5 1594.7,928.7 1589.8,931.4 1584.5,933.8 1579.2,936.1 1574,938.3 1569.1,940.4 1565.7,941.7 1563.5,944 1562.7,947 1563.5,950.1 1565.7,952.3 1568.7,953.1Z"/><path d="M1564.6,953.1 1567.7,955.3 1572.1,958.5 1576.5,962.1 1580.7,965.8 1584.9,969.8 1589,974.1 1593.2,978.9 1597.4,984.1 1601.4,989.3 1605.2,994.5 1608.9,999.7 1612.4,1004.7 1615.8,1009.9 1619,1014.9 1621.6,1018.8 1623.2,1021.3 1624.1,1022.7 1624.7,1023.5 1626.3,1024.9 1628.4,1025.3 1630.4,1024.7 1631.8,1023.1 1632.2,1021 1631.5,1019 1631,1018.1 1630,1016.7 1628.4,1014.3 1625.8,1010.4 1622.4,1005.4 1618.9,1000.3 1615.4,995.2 1611.8,989.8 1608,984.4 1603.9,979 1599.7,973.6 1595.4,968.4 1591,963.7 1586.8,959.5 1582.9,955.4 1579,951.1 1575.4,947 1572.9,944.1 1570.1,942.6 1566.9,942.8 1564.3,944.5 1562.8,947.3 1562.9,950.4Z"/><path d="M1136.7,587 1158.4,599.6 1183.6,597.8 1203.5,590.6 1214.3,572.5 1236,576.1 1245,597.8 1263.1,614 1277.5,624.9 1302.8,626.7 1302.8,641.1 1284.8,652 1279.3,684.5 1273.9,711.6 1272.1,729.6 1277.5,742.3 1293.8,754.9 1275.7,760.3 1257.7,738.6 1239.6,749.5 1221.6,753.1 1203.5,756.7 1192.7,774.8 1167.4,771.2 1165.6,747.7 1158.4,731.4 1147.5,713.4 1136.7,698.9 1122.2,691.7 1122.2,664.6 1131.3,648.4 1133.1,626.7 1129.5,608.6 1118.6,585.1Z"/></g><mask id="nm" maskUnits="userSpaceOnUse" x="1020" y="490" width="380" height="370"><use href="#nb" fill="#fff" filter="url(#goo)"/></mask><radialGradient id="gt" gradientUnits="userSpaceOnUse" cx="1207" cy="674" r="175"><stop offset="0" stop-color="#c8629a"/><stop offset="0.42" stop-color="#cd699c"/><stop offset="0.6" stop-color="#d8759f" stop-opacity="0.8"/><stop offset="0.8" stop-color="#df7c9d" stop-opacity="0.4"/><stop offset="1" stop-color="#e3819c" stop-opacity="0"/></radialGradient><radialGradient id="gn" cx="0.5" cy="0.5" r="0.5" fx="0.68" fy="0.72"><stop offset="0" stop-color="#772662"/><stop offset="0.35" stop-color="#863a79"/><stop offset="0.65" stop-color="#9d6594"/><stop offset="0.9" stop-color="#b083a8"/><stop offset="1" stop-color="#c191b5" stop-opacity="0"/></radialGradient></defs>
<use href="#nb" fill="#e17492" filter="url(#goo)"/>
<g fill="#ee97ae" filter="url(#bl1)"><path d="M1054,379.7 1055.2,381.7 1056.8,384.6 1058.8,387.4 1061,389.7 1063.5,391.8 1066.1,394.3 1068.6,397.4 1071.3,400.9 1074,404.9 1077.1,409.7 1080.3,415 1083.3,420.3 1086,425.6 1088.6,431 1090.9,436 1093.2,440.7 1095.2,445.1 1096.6,448.1 1097.9,449.4 1099.6,449.9 1101.3,449.5 1102.7,448.2 1103.2,446.5 1102.8,444.8 1101,442 1098.5,437.9 1095.9,433.4 1093.4,428.6 1090.8,423.2 1087.9,417.8 1084.8,412.4 1081.5,406.9 1078.5,402 1075.7,397.8 1073.1,394.1 1070.8,390.7 1068.9,387.5 1067.3,384.6 1065.6,382 1063.4,379.5 1061.1,377.2 1059.4,375.6 1058,374.5 1056.3,374.3 1054.6,375 1053.6,376.4 1053.4,378.1Z"/><path d="M1143.6,417.4 1142.4,418.7 1140.8,420.6 1139.1,422.7 1137.4,425.2 1135.6,428.1 1133.5,430.7 1131,432.9 1128.1,435 1124.9,437.1 1121.4,439.2 1117.7,441.2 1114,443.2 1109.8,445.2 1105.7,447.1 1102.7,448.5 1101.4,449.7 1100.9,451.5 1101.3,453.2 1102.5,454.5 1104.3,455 1106,454.6 1108.8,452.9 1112.7,450.5 1116.7,448.1 1120.3,445.9 1124,443.7 1127.6,441.6 1131,439.7 1134.4,437.7 1137.7,435.6 1140.9,433.1 1143.8,430.5 1146.2,428 1147.9,425.2 1148.9,422.5 1149.5,420.8 1150,419.1 1149.5,417.4 1148.3,416.1 1146.6,415.7 1144.9,416.1Z"/><path d="M1095.6,447.6 1094.4,451.1 1092.6,456.1 1091.1,461.6 1090.1,467 1089.4,472.6 1088.8,478 1088.4,483.3 1088.1,488.7 1088,494.1 1088,499.6 1088.2,505.1 1088.4,510.2 1088.7,514.3 1089.2,518.1 1090,522.1 1091.4,526.5 1093.1,530.9 1094.9,535.3 1096.7,539.4 1098.6,543.4 1100.7,548.1 1103.2,554.3 1106.2,561.5 1109.3,568.7 1112.9,575.6 1116.5,582.1 1119.8,588.2 1122.5,593.9 1125.2,599.5 1127.8,605.3 1130.3,611.4 1132.7,617.5 1135.7,623.3 1140.1,628.9 1145,634.1 1148.5,637.7 1154.7,641.7 1162.1,642.1 1168.6,638.7 1172.6,632.5 1173,625.1 1169.6,618.6 1166.5,614.8 1162,609.6 1157.4,604.8 1152.8,601.3 1147.9,598.2 1143.4,594.7 1139.7,590.6 1136.3,585.9 1132.7,580.5 1128.8,574.7 1124.9,568.6 1121.3,562.5 1117.7,556 1114.3,549.3 1111.2,543.2 1108.7,538.4 1106.8,534.6 1105.1,530.9 1103.4,526.9 1101.8,522.8 1100.6,519.1 1099.7,516 1099,512.9 1098.5,509.2 1097.9,504.5 1097.5,499.3 1097.3,494.1 1097.4,489 1097.6,484 1098.1,478.9 1098.7,473.7 1099.5,468.6 1100.5,464 1102.1,459.3 1104,454.7 1105.4,451.4 1105.7,448.7 1104.6,446.2 1102.4,444.6 1099.7,444.3 1097.2,445.4Z"/><path d="M1026.4,498.3 1027.6,498.8 1029.4,499.6 1031.7,500.2 1034.5,500.5 1037.6,500.5 1040.8,501 1044.6,502.3 1048.9,504 1053.2,506 1057.4,507.9 1061.6,510 1065.6,512.2 1069.2,514.2 1072.7,516.3 1076.3,518.5 1080.7,521.4 1085.2,524.4 1088.3,526.5 1090.4,527.1 1092.4,526.5 1093.9,525 1094.4,522.9 1093.8,520.9 1092.3,519.4 1088.9,517.8 1084,515.6 1079.3,513.3 1075.5,511.3 1072,509.3 1068.2,507.2 1064.1,505.1 1059.8,503 1055.6,500.9 1051.3,498.8 1047,496.7 1042.9,494.9 1039.2,493.5 1036,492.4 1033.3,491.7 1031,491.4 1029,491.4 1027.7,491.4 1025.9,491.5 1024.4,492.6 1023.6,494.2 1023.7,496 1024.7,497.5Z"/><path d="M1214.7,398.3 1213.8,399.8 1212.4,401.9 1211,404.5 1209,408.2 1206.6,412.9 1204.8,418 1204.5,422.9 1205.1,427.3 1205.9,431.5 1206.5,435.5 1207.4,439.7 1208.7,444.5 1210.5,450.6 1212.7,457.4 1214.9,463.5 1217,468.4 1219.1,472.4 1221.1,476.4 1223.2,480.7 1225.2,485.1 1227,489.1 1228.4,492.4 1229.5,495.2 1230.2,497 1231.8,498.6 1233.9,499.3 1236,498.8 1237.6,497.2 1238.3,495.1 1237.8,493 1236.6,491.3 1234.9,488.9 1233,485.9 1231,482.3 1228.7,478 1226.4,473.6 1224.2,469.7 1222.1,465.9 1220.1,461.5 1217.9,455.6 1215.6,449 1213.8,443 1212.6,438.4 1211.8,434.5 1211.1,430.5 1210.4,426.5 1209.8,422.7 1210.2,419.5 1212.2,416.1 1215.4,412.3 1218.1,408.6 1219.6,405.2 1220.2,402.5 1220.6,400.7 1220.8,399.1 1220.1,397.6 1218.8,396.6 1217.2,396.4 1215.7,397Z"/><path d="M1227.2,492.4 1226.5,494.3 1225.6,497.2 1224.7,500.4 1224,503.9 1223.2,507.7 1222.5,511.7 1221.7,515.7 1221,519.9 1220.2,524.5 1219.5,529.8 1218.7,535.5 1218.3,540.9 1218.5,545.2 1218.9,547.9 1219,550.3 1218.7,554.5 1218.1,559.7 1217.1,564.8 1215.2,569.6 1212.8,574.5 1210.8,579.6 1209.3,585.4 1208.2,591.2 1207.4,595.2 1208.5,602.5 1213,608.3 1219.9,611 1227.2,610 1233,605.4 1235.7,598.6 1235.9,594.5 1236.2,588.7 1236.1,582.9 1235.5,577.6 1234.5,572.1 1233.8,566.4 1233.7,560.7 1233.7,555 1233.5,549.7 1232.8,545.6 1232.1,543.2 1231.7,540.9 1231.9,536.7 1232.3,531.3 1232.9,526.2 1233.4,521.8 1234,517.8 1234.7,514 1235.5,510.2 1236.4,506.6 1237.2,503.4 1237.8,500.3 1238.4,497.5 1238.8,495.6 1238.8,492.5 1237.3,489.8 1234.6,488.2 1231.5,488.2 1228.8,489.7Z"/><path d="M1419.1,265.7 1418,265.9 1416.5,266.1 1414.7,266.5 1412.3,267.2 1409.1,268.2 1405.8,269.2 1402.4,270 1398.8,270.8 1394.6,271.9 1389.7,273.5 1384.2,275.4 1378.8,277.5 1373.5,279.6 1368.2,281.9 1362.8,284.6 1357.5,287.7 1352.2,291.1 1346.9,294.9 1341.5,299.1 1336.2,303.6 1331,308.4 1326,313.5 1321.1,318.9 1316.7,324.3 1312.7,329.5 1309,334.8 1305.6,340.2 1302.2,345.9 1298.9,351.9 1296,357.6 1293.6,363 1291.5,368.3 1289.7,373.6 1288.1,378.9 1286.9,384.2 1285.7,389.4 1284.5,394.8 1283.5,400.1 1282.5,405.1 1281.5,409.6 1280.7,413.8 1279.9,417.6 1279,421.4 1278.3,424.7 1277.8,427 1278.1,429 1279.3,430.5 1281.1,431.3 1283,431 1284.6,429.8 1285.3,428 1285.4,425.6 1285.5,422.3 1285.8,418.6 1286.3,414.8 1287,410.7 1287.9,406.1 1288.8,401.2 1289.8,395.9 1290.9,390.6 1292,385.4 1293.2,380.3 1294.7,375.2 1296.5,370.2 1298.5,365.1 1300.8,359.9 1303.6,354.3 1306.8,348.5 1310.1,342.9 1313.4,337.7 1317,332.6 1320.8,327.6 1325.1,322.4 1329.8,317.2 1334.7,312.2 1339.7,307.6 1344.8,303.2 1350,299.1 1355.1,295.5 1360.2,292.2 1365.3,289.2 1370.4,286.6 1375.5,284.3 1380.6,282.2 1385.9,280.2 1391.2,278.3 1396,276.8 1399.9,275.9 1403.4,275.3 1406.7,274.8 1410.2,274.7 1413.5,274.7 1416.5,274.5 1418.9,273.7 1420.6,272.7 1421.5,272.1 1423,271 1423.7,269.4 1423.5,267.7 1422.4,266.3 1420.8,265.6Z"/><path d="M1347.9,394.4 1346.7,394.7 1345,395 1342.9,395.9 1340.1,397.4 1336.9,399.5 1333.2,401.7 1329.3,403.8 1325,405.9 1320.7,408 1316.6,410.1 1312.4,412.2 1308.2,414.3 1303.9,416.6 1299.6,419 1295.5,421.3 1291.4,423.7 1287.6,426.1 1284.9,427.7 1283.8,428.9 1283.5,430.5 1284.1,432.1 1285.3,433.2 1287,433.5 1288.5,433 1291,431.1 1294.5,428.5 1298.3,425.8 1302.1,423.5 1306.4,421.1 1310.6,418.8 1314.7,416.7 1318.8,414.6 1323,412.6 1327.3,410.4 1331.5,408.3 1335.5,406.4 1339.4,405.1 1343.1,404 1346.2,402.9 1348.3,401.6 1349.7,400.4 1350.5,399.6 1351.7,398.6 1352.1,397.2 1351.8,395.7 1350.8,394.6 1349.4,394.1Z"/><path d="M1278.7,423.8 1278.7,427.5 1278.6,432.4 1278.1,436.6 1277.2,439.4 1276,442 1274.3,444.9 1272.4,447.9 1270.2,450.9 1267.8,454 1265.4,457.2 1262.9,460.2 1260.3,463.3 1257.7,466.4 1255,469.4 1252.2,472.5 1249.1,475.5 1246,478.5 1243.2,481.3 1240.7,483.9 1238.3,486.5 1236,489 1233.5,491.6 1231.3,493.9 1229.9,495.5 1229,497.4 1229.2,499.4 1230.5,501.1 1232.4,502 1234.4,501.8 1236.1,500.5 1237.3,498.8 1239.1,496.3 1241,494 1243.4,492.1 1246.3,490 1249.3,487.5 1252.2,484.4 1255,480.9 1257.8,477.5 1260.5,474.3 1263.2,471.1 1265.9,467.9 1268.4,464.7 1271,461.6 1273.4,458.5 1275.9,455.4 1278.4,452.2 1280.7,448.9 1282.7,445.8 1284.5,442.4 1285.9,438.4 1286.7,433.2 1287.1,427.8 1287.3,424.2 1286.8,422 1285.3,420.4 1283.2,419.7 1281,420.2 1279.4,421.7Z"/><path d="M1411.4,558.2 1410.4,558.1 1409,558.1 1406.8,558.3 1403.6,558.9 1399.4,559.8 1394.9,561 1390.6,562.5 1386.3,564.2 1382,566.2 1377.7,568.4 1373.3,570.8 1369.1,573.5 1365.1,576.5 1361.4,579.7 1357.8,583.1 1354.5,586.7 1351.3,590.4 1348.2,594.3 1345.1,598.5 1341.9,602.8 1338.9,606.8 1335.8,610.6 1332.8,614.2 1329.6,617.4 1326.3,620.5 1322.8,623.3 1319.3,625.5 1315.6,626.9 1311.6,627.9 1307.6,628.4 1303.7,628.4 1299.6,627.9 1295.4,627.3 1291.2,626.5 1286.8,625.6 1281.8,624.8 1276.6,623.9 1271.4,623 1266.2,623 1260.9,624.4 1256.1,626.5 1252.9,628 1247,632.4 1244,639.1 1244.9,646.5 1249.2,652.4 1256,655.4 1263.3,654.5 1266.6,653.5 1271.1,651.9 1275,650.1 1278.2,647.6 1281.3,644.6 1284.4,642.1 1287.8,640.4 1291.7,639.1 1295.8,638 1300,637.1 1304.3,636.3 1308.7,635.3 1313.1,634 1317.6,632.5 1322,630.5 1326.1,627.8 1329.9,624.7 1333.5,621.3 1336.8,617.8 1339.9,614 1343,610.1 1346.2,605.9 1349.3,601.6 1352.4,597.6 1355.4,593.8 1358.4,590.2 1361.6,586.9 1364.9,583.6 1368.5,580.6 1372.1,577.8 1376,575.3 1380.1,573 1384.2,571 1388.3,569.2 1392.4,567.8 1396.3,566.8 1400.3,566.5 1404.4,566.5 1407.8,566.4 1410.2,565.9 1411.7,565.3 1412.6,564.9 1414.2,564.1 1415.2,562.7 1415.4,561 1414.6,559.4 1413.2,558.4Z"/><path d="M1335.7,533.7 1335.5,535.2 1335.3,537.5 1335.7,540.5 1336.9,543.9 1338.5,547.5 1340,551.3 1341.2,555.3 1342.3,559.5 1343.2,563.7 1344.2,567.8 1345,572 1345.5,575.9 1345.8,579.5 1345.7,582.9 1345.4,586.3 1344.8,590.2 1343.8,594.1 1343.2,596.9 1343.2,598.4 1344,599.6 1345.3,600.3 1346.8,600.2 1348.1,599.4 1348.7,598.1 1349.2,595.2 1350,591.1 1350.5,586.8 1350.7,583.1 1350.7,579.3 1350.4,575.4 1349.8,571.2 1348.9,566.9 1348,562.6 1347,558.3 1345.9,554.1 1345,549.9 1344.2,545.9 1343.6,542 1343.1,538.9 1342.5,536.5 1341.9,534.6 1341.5,533.2 1341,531.8 1339.8,530.8 1338.4,530.5 1336.9,531 1336,532.2Z"/><path d="M1355.1,640.3 1354.1,639.7 1352.7,638.9 1350.6,638 1347.6,637.3 1343.8,636.5 1339.9,635.7 1336.2,635.2 1332.4,634.7 1328.7,634.2 1324.9,633.9 1321.3,633.7 1317.8,633.4 1313.9,632.6 1309.9,631.7 1307.1,631.1 1305.7,631.1 1304.5,631.9 1303.9,633.2 1304,634.6 1304.7,635.8 1306,636.4 1308.9,636.9 1313,637.6 1317.2,638.2 1321,638.5 1324.6,638.6 1328.2,638.9 1331.8,639.3 1335.4,639.8 1338.8,640.5 1342.2,641.8 1345.6,643.3 1348.5,644.5 1350.7,645 1352.3,645.2 1353.4,645.3 1354.7,645.4 1356,644.8 1356.7,643.7 1356.8,642.3 1356.2,641.1Z"/><path d="M889.7,640.9 891.4,639.7 893.6,638.2 896,636.6 898.8,634.8 902,632.8 905.5,631.1 909.8,629.7 914.7,628.6 920.1,628 925.9,628 932,628.5 938.1,629.5 944.2,631 950.2,633 956.2,635.5 962.3,638.7 968.4,642.4 974.6,646.3 980.8,650.3 987.1,654.5 993.3,658.7 999.6,663 1005.9,667.3 1012,671.4 1018,675.4 1023.8,679.2 1029.1,682.7 1034.2,686.1 1038.8,689.3 1041.9,691.4 1044.3,692 1046.7,691.3 1048.5,689.5 1049.1,687.1 1048.4,684.7 1046.6,682.9 1043.1,681.5 1038.1,679.3 1032.7,676.7 1027.3,673.6 1021.5,669.9 1015.5,666.1 1009.4,662.1 1003,657.9 996.7,653.8 990.4,649.6 984.2,645.3 977.9,641.2 971.6,637.3 965.2,633.4 958.8,630.1 952.3,627.4 945.8,625.2 939.4,623.6 932.7,622.6 926.1,622.1 919.9,622 914,622.1 908.4,622.6 903.2,623.6 898.5,625.1 894.3,627 890.8,629 888,631.5 885.9,634 884.6,635.7 883.7,637.3 883.7,639.2 884.6,640.8 886.2,641.8 888.1,641.8Z"/><path d="M994.4,760.3 995.1,758.8 996.1,756.6 997.3,754.1 998.7,750.6 1000.3,746.4 1002.3,742.1 1004.5,738 1007,734 1009.8,729.8 1013.2,725.2 1016.9,720.5 1020.6,715.9 1024.2,711.5 1027.8,707.4 1031.5,703.7 1035.9,700.1 1040.4,696.8 1043.7,694.6 1044.9,692.8 1045.1,690.7 1044.2,688.8 1042.5,687.6 1040.4,687.4 1038.5,688.3 1035.6,691.1 1031.5,695.1 1027.3,699.4 1023.5,703.6 1019.9,707.9 1016.2,712.3 1012.5,716.9 1008.7,721.8 1005.2,726.5 1002.2,730.9 999.6,735.1 997.1,739.1 994.4,743.1 991.7,747 989.5,750.6 988.4,753.9 988,756.7 987.8,758.5 987.8,760.2 988.7,761.7 990.2,762.6 991.9,762.7 993.5,761.8Z"/><path d="M1042.6,693.4 1046.4,693.4 1052,693.3 1057.6,693.2 1062.9,693 1068.2,692.8 1073.7,692.4 1079.1,691.8 1084.5,691 1089.8,690.3 1095.2,689.8 1100.8,689.2 1106.3,688.5 1111.4,687.7 1116,686.9 1120.6,686.3 1125.4,685.8 1129.9,685.6 1133.5,685.5 1137.7,684.8 1142.6,683.6 1146.2,682.7 1152.9,679.5 1156.9,673.3 1157.4,666 1154.1,659.3 1148,655.2 1140.6,654.8 1136.9,655.4 1131.2,656.4 1125.2,658.2 1120.3,661.2 1116.5,664.6 1113.1,667.5 1109.6,669.9 1106.2,672.1 1102.4,674 1098,675.6 1092.9,677.1 1087.7,678.4 1082.6,679.5 1077.5,680.4 1072.6,681 1067.5,681.4 1062.4,681.7 1057.4,681.8 1051.9,681.8 1046.5,681.7 1042.7,681.6 1039.7,682.3 1037.5,684.5 1036.7,687.5 1037.5,690.4 1039.7,692.6Z"/><path d="M1173.9,707.8 1173.9,712.4 1174.1,719 1174.2,726.5 1174.1,734 1173.8,740.6 1172.7,747.7 1171.2,754.5 1169.5,761.1 1168,767.1 1166.9,773.5 1166.2,778.6 1165.3,783.7 1163.8,789.8 1162.1,796.1 1160.1,802.5 1157.9,808.8 1155.5,815 1152.9,820.8 1150.3,826 1147.4,830.9 1144.1,836.1 1140.4,841.6 1136.4,847.3 1132,853 1127.2,858.7 1122.1,864.5 1116.8,870.1 1111.6,875.6 1106.3,880.8 1101.4,885.5 1096.9,889.5 1092.6,893 1088.7,896.3 1085.3,899.5 1082.5,902.3 1080.7,904.1 1079.5,906.4 1079.6,909 1081,911.2 1083.3,912.4 1085.9,912.3 1088,910.9 1089.7,908.9 1092.1,906.1 1095,903.1 1098.5,899.9 1102.7,896.2 1107.4,892 1112.4,887.1 1117.8,881.7 1123.2,876.2 1128.6,870.6 1134.1,864.8 1139.2,858.9 1143.9,853 1148.2,847.1 1152.2,841.4 1155.7,836.2 1159,831 1162.1,825.4 1165.1,819.2 1167.8,812.7 1170.5,806.3 1173,799.9 1175.5,793.5 1177.9,787.6 1179.9,782.5 1181.9,778.1 1184.5,772.9 1187.2,768 1190.4,762.3 1194.1,756 1198.2,749.4 1202.2,743.6 1206.8,737.3 1211.3,731.2 1215.3,725.9 1218.1,722.2 1218.8,710.2 1213.3,699.5 1203.2,692.9 1191.2,692.2 1180.5,697.7Z"/><path d="M970.2,906.4 971.5,906.6 973.1,906.9 975.2,907.4 978.5,908.1 982.9,909.3 987.8,910.6 992.8,911.9 998.1,913.2 1003.9,914.4 1010.1,915.2 1016.6,915.8 1023.1,916 1029.6,915.7 1035.9,915.1 1042.3,914.4 1048.7,913.5 1055.2,912.5 1061.3,911.4 1067.1,910.2 1072.5,909 1077.1,908.1 1081.2,907.5 1084.7,907.3 1087.2,907.1 1089.4,906.1 1090.8,904.1 1091,901.7 1090,899.5 1088,898.1 1085.6,897.9 1083.2,898.6 1079.7,899.5 1075.4,900.7 1070.7,902.1 1065.5,903.7 1060,905.1 1054.1,906.4 1047.8,907.5 1041.5,908.4 1035.3,909.2 1029.2,909.8 1023.1,910 1016.9,909.8 1010.7,909.2 1004.9,908.4 999.5,907.4 994.4,906 989.7,904.4 985.3,902.5 981.2,900.5 977.3,898.9 973.8,898.5 971.3,898.9 969.8,899.2 968,899.8 966.8,901.2 966.4,903 966.9,904.8 968.3,906Z"/><path d="M1080.1,906.4 1078.7,910.3 1076.7,916 1074.6,921.8 1072.7,926.9 1070.7,932.2 1068.7,937.8 1066.7,944.6 1064.8,951.6 1063.4,956.7 1063.4,956.9 1062.9,957 1062.5,958.8 1061.6,963.9 1060.4,970.8 1059.4,977.8 1058.8,984.1 1058.4,990.5 1058.2,996.9 1058.3,1003.2 1058.6,1009.6 1059.1,1015.9 1059.8,1022.2 1060.7,1028.6 1061.8,1034.9 1063.2,1041.2 1064.8,1047.6 1066.6,1053.9 1068.7,1060.4 1071.1,1066.8 1073.7,1073 1076.5,1079 1079.5,1084.9 1082.4,1090.4 1085.5,1095.7 1088.5,1100.7 1091,1104.7 1092.7,1107.5 1094,1109.4 1094.7,1110.6 1096.1,1111.6 1097.8,1111.9 1099.3,1111.2 1100.4,1109.9 1100.6,1108.2 1100,1106.6 1099,1105.6 1097.7,1104 1095.9,1101.5 1093.3,1097.7 1090.3,1092.9 1087.2,1087.7 1084.3,1082.4 1081.5,1076.6 1078.8,1070.8 1076.3,1064.7 1073.9,1058.5 1071.8,1052.3 1070.1,1046.2 1068.5,1040 1067.2,1033.9 1066.1,1027.7 1065.3,1021.5 1064.6,1015.4 1064.1,1009.2 1063.8,1003 1063.7,996.9 1063.9,990.8 1064.3,984.6 1065,978.5 1066,971.7 1067.2,964.9 1068.1,959.9 1068.2,959.2 1067.8,960.6 1068.8,958.3 1070.3,953.2 1072.3,946.2 1074.4,939.7 1076.5,934.4 1078.7,929.4 1081,924.5 1083.8,919.1 1086.6,913.9 1088.6,910.2 1089,907.8 1088.1,905.6 1086.3,904 1083.9,903.7 1081.7,904.5Z"/><path d="M1153,840.3 1153.2,844.7 1153.4,851.1 1153.9,857.8 1154.7,864 1155.8,870.5 1157.2,876.9 1158.8,883.3 1160.6,889.7 1162.7,896 1165.2,902.1 1168,908.1 1170.7,913.5 1173.4,918.3 1176.1,922.6 1178.7,926.4 1181.2,929.9 1183.5,932.8 1185.2,934.9 1186.4,936.1 1187.3,936.8 1187.9,937.3 1189.1,938.2 1190.5,938.5 1191.9,938 1192.9,936.9 1193.2,935.4 1192.7,934 1192.5,933.2 1192,931.9 1190.7,930.1 1188.5,928 1185.9,925.7 1183.2,923 1180.7,919.5 1178.1,915.5 1175.5,910.9 1172.9,905.7 1170.3,899.9 1167.9,894 1165.8,888 1164.1,881.8 1162.5,875.6 1161.2,869.4 1160.2,863.2 1159.6,857.2 1159.3,850.9 1159.4,844.7 1159.5,840.3 1159,838.7 1157.8,837.5 1156.2,837.1 1154.6,837.5 1153.5,838.7Z"/><path d="M1407.5,708.7 1406.1,708.7 1404,708.8 1401.3,709.2 1397.7,709.9 1393.2,710.9 1388.6,712.3 1384.2,713.9 1379.8,715.9 1375.5,718.3 1371.1,721.2 1366.8,724.5 1362.6,727.9 1358.4,731.5 1354.2,735.3 1350.1,738.8 1346,742.1 1341.9,745.3 1337.9,748 1333.9,750.3 1329.9,752.3 1325.9,753.9 1321.9,755.2 1317.9,756.1 1314,756.7 1310,756.9 1305.9,756.8 1302.4,756.2 1299.5,755.4 1297,754.2 1294.5,752.7 1291.8,750.8 1289.1,748.5 1286.6,746.2 1284.4,743.7 1282.4,741 1280.3,738 1278.1,734.4 1275.9,730.4 1274.3,727.6 1270.6,724.9 1266.1,724.5 1262,726.3 1259.3,730 1258.9,734.5 1260.7,738.7 1263.2,740.8 1266.7,743.9 1270.3,747 1273.3,749.6 1276.4,752.1 1279.7,754.5 1283.2,756.7 1286.8,758.8 1290.5,760.5 1294,761.7 1297.5,762.6 1301.4,763.1 1305.7,763.3 1310.2,763.2 1314.7,762.7 1319.1,761.9 1323.5,760.7 1327.9,759.2 1332.2,757.4 1336.5,755.2 1340.8,752.6 1345.1,749.7 1349.4,746.5 1353.6,743 1357.9,739.4 1362,735.6 1366.1,732.1 1370.2,728.8 1374.3,725.6 1378.3,723 1382.3,720.9 1386.2,719.2 1390.2,718 1394.4,717.5 1398.7,717.3 1402.5,717.1 1405.3,716.5 1407.4,715.8 1408.7,715.4 1410.3,714.6 1411.3,713.2 1411.5,711.4 1410.7,709.8 1409.3,708.8Z"/><path d="M1234.2,738.1 1238.7,740.2 1245.1,743.4 1251.2,746.8 1256.1,750.3 1260.4,753.8 1264.4,757 1268.5,759.9 1272.6,762.9 1276.7,766.1 1280.7,769.3 1284.4,772.6 1288.3,776.2 1292.4,780.3 1296.7,784.8 1300.9,789.5 1305,794.8 1309.3,800.5 1313.6,806.3 1317.9,811.9 1322.2,817.6 1326.5,823.2 1330.8,828.9 1335.1,834.7 1339.2,840.2 1343.1,845.6 1346.9,850.8 1350.3,855.6 1353.3,859.7 1355.9,863.4 1358.2,866.6 1360.1,869.6 1361.6,872.2 1362.7,873.9 1364.4,875.4 1366.7,875.8 1368.8,875 1370.2,873.2 1370.6,871 1369.8,868.9 1368.5,867.3 1366.5,865 1364.3,862.2 1362,859 1359.4,855.4 1356.5,851.3 1353.2,846.4 1349.6,841 1345.8,835.4 1341.8,829.7 1337.7,823.9 1333.5,818 1329.5,812.2 1325.5,806.4 1321.4,800.6 1317.4,794.7 1313.3,788.7 1309.1,783 1304.9,777.7 1300.7,772.8 1296.7,768.2 1293,764 1289.6,760.2 1286.4,756.4 1283.4,752.3 1280.3,748 1276.8,743.6 1272.7,739.7 1268.6,736 1265.1,731.9 1261.9,726.4 1259.1,720.1 1257,715.7 1249.9,711.5 1241.6,711.4 1234.4,715.5 1230.2,722.6 1230.1,730.9Z"/><path d="M1361.3,873.7 1362.3,877.4 1363.7,882.6 1364.7,888.1 1364.8,893.3 1364.6,899.1 1364.3,905.5 1364.1,912.9 1363.9,920.9 1363.6,928.9 1363.2,936.7 1362.8,944.6 1362.6,952.4 1362.5,960.3 1362.6,968.2 1362.9,976.1 1363.4,984 1364.2,991.9 1365.3,999.8 1366.6,1007.7 1368.1,1015.6 1370,1023.5 1371.6,1029.5 1373.3,1035.5 1375.2,1041.5 1377.1,1047.2 1379.7,1054.3 1382.4,1061.2 1385,1067.6 1387.5,1073.8 1389.9,1079.8 1391.9,1084.8 1393.4,1089 1394.4,1092.3 1395,1094.5 1396.2,1096.1 1398,1096.8 1399.9,1096.5 1401.4,1095.4 1402.1,1093.6 1401.8,1091.7 1400.7,1089.7 1399,1086.6 1397.1,1082.7 1395,1077.7 1392.5,1071.8 1390,1065.5 1387.5,1059.1 1384.8,1052.4 1382.3,1045.3 1380.4,1039.8 1378.6,1033.9 1376.9,1028 1375.3,1022.2 1373.5,1014.4 1372,1006.7 1370.7,999 1369.7,991.2 1368.9,983.5 1368.4,975.8 1368.1,968.1 1368,960.3 1368.1,952.6 1368.3,944.8 1368.8,937 1369.2,929.2 1369.5,921.1 1369.8,913.1 1370,905.7 1370.3,899.3 1370.4,893.3 1370.3,887.6 1369.7,881.6 1368.8,876 1368.1,872.2 1367.2,870.6 1365.7,869.6 1363.9,869.6 1362.3,870.4 1361.4,871.9Z"/><path d="M1364.1,873.1 1366.2,875.8 1369.3,879.7 1373,883.8 1377.1,887.7 1381.7,891.6 1386.1,895 1389.9,897.2 1393.4,898.7 1397.1,900.4 1401.8,902.8 1407.1,905.6 1413,908.3 1419.5,910.6 1426.5,912.8 1433.7,914.6 1441,916.2 1448.4,917.4 1455.8,918.6 1463.2,919.6 1470.4,920.5 1477.6,921.7 1484.8,923.3 1492,925.1 1499.2,927.1 1506.6,929.3 1513.9,931.7 1520.9,934.1 1527.5,936.5 1533.7,938.9 1539.5,941.2 1545,943.5 1550.2,945.6 1555.3,947.5 1560.5,949.2 1565.4,950.5 1568.8,951.4 1570.5,951.4 1572,950.4 1572.8,948.9 1572.8,947.1 1571.9,945.7 1570.3,944.8 1566.9,944.2 1562.1,943.2 1557.2,941.8 1552.4,940.1 1547.3,937.9 1541.7,935.6 1535.8,933.4 1529.5,931.1 1522.8,928.7 1515.7,926.3 1508.3,923.9 1500.8,921.6 1493.4,919.6 1486.1,917.7 1478.7,916.1 1471.2,914.9 1463.9,914 1456.7,913 1449.4,911.8 1442.1,910.6 1435,909.1 1428.1,907.3 1421.3,905.2 1415.1,903 1409.6,900.5 1404.5,897.7 1399.7,895.2 1395.8,893.4 1392.7,892 1389.5,890 1385.6,886.9 1381.3,883.1 1377.7,879.4 1374.7,875.5 1372.1,871.6 1370.3,868.8 1368.8,867.5 1366.8,867.2 1365,867.9 1363.8,869.4 1363.4,871.3Z"/><path d="M1570.6,950.3 1573.6,948.3 1577.9,945.3 1582.5,942.4 1587.4,939.9 1592.8,937.3 1598.2,934.3 1603.3,930.8 1608.1,926.9 1612.6,923.1 1616.7,919.1 1620.5,915.3 1623.7,912.1 1626.2,909.7 1628.1,908 1629.4,906.9 1630.1,905.6 1630.1,904.1 1629.4,902.8 1628.1,902.1 1626.6,902.1 1625.3,902.8 1624.2,904.1 1622.4,906 1620.1,908.5 1617,911.8 1613.3,915.7 1609.3,919.4 1605,923.1 1600.3,926.8 1595.5,930 1590.5,932.8 1585.2,935.2 1580,937.6 1574.9,940 1570.1,942.2 1566.9,943.8 1565.5,945.1 1565,947 1565.5,948.9 1566.9,950.3 1568.7,950.8Z"/><path d="M1566.2,951.4 1569.2,953.7 1573.4,957.1 1577.7,960.8 1581.8,964.6 1586,968.6 1590.2,973 1594.4,977.9 1598.6,983.1 1602.6,988.4 1606.5,993.6 1610.1,998.8 1613.6,1003.9 1617,1009 1620.3,1014 1622.9,1018 1624.5,1020.4 1625.4,1021.8 1626,1022.7 1627,1023.5 1628.3,1023.8 1629.5,1023.4 1630.4,1022.4 1630.7,1021.1 1630.2,1019.8 1629.7,1019 1628.7,1017.6 1627.1,1015.2 1624.5,1011.2 1621.1,1006.3 1617.6,1001.1 1614.2,996 1610.5,990.7 1606.7,985.4 1602.7,980 1598.4,974.6 1594.2,969.5 1589.9,964.9 1585.6,960.7 1581.7,956.7 1577.7,952.5 1573.9,948.6 1571.3,945.8 1569.6,944.9 1567.6,945 1566,946 1565.1,947.8 1565.1,949.7Z"/></g>
<g fill="#f9c6d2" filter="url(#bl1)"><path d="M1054.4,377.1 1055.6,378.8 1057.3,381.3 1059.3,384 1061.5,386.5 1063.9,389.1 1066.4,392 1069,395.2 1071.6,398.8 1074.4,402.9 1077.5,407.8 1080.7,413.1 1083.8,418.5 1086.5,423.8 1089.1,429.1 1091.5,434.1 1093.8,438.6 1095.8,442.8 1097.2,445.6 1097.7,446.1 1098.3,446.3 1098.9,446.2 1099.4,445.7 1099.6,445.1 1099.4,444.5 1097.9,441.7 1095.7,437.7 1093.2,433.2 1090.8,428.3 1088.2,423 1085.4,417.6 1082.3,412.2 1079.1,406.8 1076,401.9 1073.2,397.7 1070.6,394.1 1068.1,390.7 1065.8,387.5 1063.7,384.6 1061.7,382 1059.7,379.5 1057.7,377.2 1056.4,375.6 1055.9,375.2 1055.3,375.1 1054.7,375.4 1054.3,375.9 1054.2,376.5Z"/><path d="M1144.3,417 1143.1,418.4 1141.5,420.3 1139.7,422.6 1137.8,425.4 1135.8,428.3 1133.6,431.1 1131,433.3 1128,435.5 1124.7,437.6 1121.2,439.6 1117.5,441.7 1113.8,443.7 1109.6,445.7 1105.4,447.7 1102.5,449.1 1102,449.5 1101.8,450.1 1101.9,450.8 1102.3,451.2 1103,451.4 1103.6,451.3 1106.5,449.8 1110.6,447.6 1114.7,445.4 1118.4,443.4 1122.2,441.3 1125.7,439.2 1129,437.1 1132.2,435 1135.2,432.7 1137.8,430 1140.2,427.1 1142.2,424.5 1143.9,422.1 1145.3,420 1146.2,418.5 1146.4,417.9 1146.3,417.3 1146,416.8 1145.4,416.6 1144.8,416.7Z"/><path d="M1096.7,446.9 1095.5,450.3 1093.7,455.2 1092.2,460.5 1091.3,465.7 1090.5,471.1 1090,476.5 1089.6,481.7 1089.3,487 1089.2,492.3 1089.2,497.7 1089.4,503 1089.7,507.9 1090,511.8 1090.5,515.3 1091.3,519 1092.6,523.2 1094.3,527.5 1096.1,531.8 1097.8,535.7 1099.7,539.6 1101.8,544.2 1104.4,550.3 1107.4,557.3 1110.6,564.1 1114.1,570.6 1117.7,576.9 1121,582.8 1123.9,588.2 1126.5,593.3 1129.2,598.2 1131.7,602.8 1134.1,607.2 1137.2,611.8 1141.5,617 1146.4,622.3 1149.8,626 1152,627.4 1154.6,627.6 1156.9,626.4 1158.4,624.2 1158.5,621.5 1157.3,619.2 1154,615.5 1149.3,610.2 1144.9,605.3 1141.4,601.6 1138,598.3 1134.8,594.5 1131.7,590.2 1128.8,585.4 1125.6,580.1 1122.1,574.3 1118.4,568.2 1114.8,561.9 1111.5,555.3 1108.4,548.6 1105.6,542.5 1103.3,537.9 1101.4,534 1099.7,530.2 1097.9,526 1096.3,521.9 1095.1,518 1094.2,514.6 1093.7,511.4 1093.3,507.6 1092.9,502.8 1092.6,497.6 1092.5,492.3 1092.6,487.1 1092.9,482 1093.3,476.8 1093.9,471.5 1094.6,466.3 1095.6,461.3 1097.1,456.3 1098.9,451.5 1100.2,448.1 1100.3,447.2 1099.9,446.3 1099.1,445.8 1098.1,445.7 1097.2,446.1Z"/><path d="M1025.5,494.7 1026.7,495 1028.3,495.3 1030.5,495.8 1033.3,496.3 1036.6,496.8 1040.2,497.8 1044.2,499.3 1048.5,501.2 1052.9,503.3 1057.1,505.3 1061.3,507.4 1065.3,509.5 1069,511.5 1072.5,513.6 1076.1,515.7 1080.5,518.2 1084.9,520.8 1088,522.7 1088.8,522.8 1089.5,522.6 1090,522.1 1090.2,521.3 1090,520.6 1089.4,520.1 1086.2,518.5 1081.6,516.2 1077.2,513.8 1073.5,511.8 1070,509.8 1066.3,507.7 1062.2,505.6 1058,503.5 1053.7,501.5 1049.4,499.4 1045.1,497.4 1041,495.6 1037.3,494.4 1033.9,493.4 1031.1,492.7 1028.8,492.4 1027,492.3 1025.8,492.3 1025.2,492.4 1024.7,492.8 1024.5,493.4 1024.5,494 1024.9,494.5Z"/><path d="M1215.5,397.8 1214.5,399.2 1213.2,401.4 1211.7,404.3 1209.5,408.1 1207.1,412.7 1205.4,417.4 1205.2,421.8 1205.8,426 1206.5,430.1 1207.2,434.1 1208.1,438.2 1209.3,443 1211.1,449 1213.3,455.7 1215.5,461.8 1217.6,466.5 1219.6,470.4 1221.7,474.3 1223.7,478.6 1225.8,483 1227.6,486.7 1229,489.8 1230.2,492.3 1231,494 1231.5,494.6 1232.3,494.9 1233,494.7 1233.6,494.2 1233.9,493.4 1233.7,492.6 1232.8,491 1231.4,488.6 1229.8,485.6 1227.9,482 1225.7,477.7 1223.5,473.4 1221.5,469.5 1219.4,465.6 1217.3,461 1215.1,455.1 1212.9,448.5 1211.1,442.5 1209.9,437.8 1209.1,433.8 1208.4,429.8 1207.6,425.7 1207.1,421.7 1207.4,417.9 1209.2,413.7 1211.9,409.4 1214.2,405.7 1215.7,402.7 1216.7,400.4 1217.4,398.8 1217.6,398.3 1217.4,397.7 1217,397.3 1216.4,397.2 1215.8,397.4Z"/><path d="M1228.6,491 1228,492.9 1227.1,495.7 1226.3,498.9 1225.5,502.3 1224.8,506.1 1224,510 1223.3,513.9 1222.5,518.1 1221.8,522.5 1221.1,527.7 1220.4,533.3 1220,538.3 1220.2,541.9 1220.7,544.4 1220.9,547.2 1220.6,551.7 1220.1,556.9 1219.3,561.8 1217.8,566.2 1215.8,570.5 1214.1,575.3 1212.7,581 1211.7,586.7 1211,590.6 1211.3,593.2 1212.9,595.3 1215.3,596.4 1217.9,596.1 1220,594.5 1221,592.1 1221.5,588.2 1222.2,582.6 1222.9,577.3 1223.6,572.7 1224.4,568 1225.2,562.9 1225.6,557.4 1225.9,552 1226,547.1 1225.6,543.7 1225,541.2 1224.8,538.4 1225.1,533.8 1225.7,528.3 1226.3,523.2 1227,518.8 1227.6,514.7 1228.4,510.8 1229.1,506.9 1229.9,503.2 1230.7,499.9 1231.4,496.9 1232.2,494.2 1232.7,492.3 1232.7,491.2 1232.2,490.2 1231.3,489.6 1230.2,489.6 1229.2,490.1Z"/><path d="M1418.7,266.4 1417.5,266.6 1415.8,267 1413.7,267.5 1411.1,268.2 1408.1,269.1 1404.9,269.9 1401.7,270.7 1398.2,271.4 1394.1,272.5 1389.2,274.1 1383.8,276 1378.4,278 1373.1,280.1 1367.9,282.4 1362.6,285 1357.3,288.1 1352.1,291.5 1346.9,295.3 1341.6,299.4 1336.3,303.9 1331.1,308.6 1326.2,313.7 1321.4,319 1317,324.3 1313,329.5 1309.4,334.7 1306,340 1302.6,345.7 1299.4,351.6 1296.6,357.3 1294.1,362.7 1292.1,367.9 1290.3,373.1 1288.8,378.3 1287.5,383.6 1286.3,388.8 1285.2,394.1 1284.1,399.4 1283.1,404.4 1282.2,408.9 1281.4,413 1280.6,416.8 1279.9,420.4 1279.2,423.6 1278.8,425.8 1278.8,426.5 1279.2,427.1 1279.9,427.4 1280.6,427.3 1281.1,426.9 1281.4,426.3 1281.7,424 1282.1,420.8 1282.7,417.2 1283.4,413.4 1284.2,409.2 1285,404.8 1286,399.8 1287,394.5 1288.2,389.2 1289.3,384 1290.6,378.8 1292.1,373.6 1293.8,368.5 1295.9,363.4 1298.3,358.1 1301.1,352.5 1304.2,346.7 1307.6,341 1311,335.7 1314.5,330.6 1318.5,325.5 1322.8,320.2 1327.6,315 1332.4,310 1337.5,305.3 1342.7,300.8 1348,296.8 1353.2,293 1358.3,289.7 1363.5,286.7 1368.7,284.1 1373.8,281.8 1379,279.7 1384.4,277.7 1389.8,275.8 1394.6,274.3 1398.6,273.2 1402.1,272.5 1405.4,271.9 1408.7,271.3 1411.7,270.8 1414.4,270.3 1416.5,269.7 1418.2,269.2 1419.3,268.8 1419.8,268.4 1420.2,267.9 1420.2,267.3 1419.9,266.7 1419.3,266.4Z"/><path d="M1347.8,394.9 1346.6,395.2 1344.8,395.7 1342.4,396.6 1339.7,398.2 1336.4,400.2 1332.9,402.2 1329,404.3 1324.7,406.4 1320.5,408.5 1316.3,410.6 1312.2,412.6 1308,414.8 1303.7,417.1 1299.4,419.5 1295.4,421.8 1291.3,424.2 1287.5,426.5 1284.9,428.1 1284.5,428.5 1284.3,429.1 1284.5,429.7 1284.9,430.1 1285.5,430.2 1286.1,430 1288.7,428.3 1292.4,425.9 1296.3,423.4 1300.3,421 1304.6,418.7 1308.8,416.4 1313,414.2 1317.1,412.2 1321.3,410.1 1325.6,408 1329.8,405.9 1333.8,403.9 1337.5,402.1 1340.8,400.4 1343.6,399.1 1345.7,398.1 1347.3,397.4 1348.4,396.9 1348.9,396.6 1349.1,396.1 1349.1,395.6 1348.8,395.1 1348.3,394.9Z"/><path d="M1279.8,422.3 1279.8,426 1279.6,431.1 1279.1,435.7 1278.1,438.9 1276.6,441.8 1274.9,444.7 1272.9,447.8 1270.6,450.9 1268.2,454.1 1265.8,457.2 1263.3,460.3 1260.7,463.4 1258.1,466.5 1255.4,469.6 1252.6,472.6 1249.5,475.7 1246.4,478.7 1243.5,481.6 1240.9,484.3 1238.5,486.8 1236.2,489.2 1233.9,491.7 1231.8,493.9 1230.4,495.5 1230,496.2 1230.1,496.9 1230.5,497.5 1231.2,497.8 1231.9,497.8 1232.5,497.4 1233.9,495.7 1235.8,493.4 1238,491 1240.4,488.7 1242.9,486.4 1245.7,483.8 1248.5,480.9 1251.6,477.7 1254.5,474.5 1257.3,471.3 1260,468.2 1262.7,465 1265.3,461.9 1267.8,458.8 1270.2,455.6 1272.7,452.5 1275,449.3 1277.2,446.1 1279,443.1 1280.6,439.9 1281.8,436.2 1282.5,431.3 1282.7,426.1 1282.9,422.4 1282.7,421.6 1282.1,421.1 1281.4,420.8 1280.6,421 1280.1,421.6Z"/><path d="M1410.6,559 1409.6,559 1407.9,559 1405.6,559.3 1402.3,559.8 1398.3,560.6 1394.2,561.7 1390.1,563.1 1385.9,564.8 1381.7,566.7 1377.5,568.8 1373.2,571.2 1369.1,573.8 1365.2,576.8 1361.5,580 1358,583.3 1354.7,586.8 1351.6,590.5 1348.5,594.3 1345.4,598.5 1342.3,602.7 1339.2,606.8 1336.1,610.7 1333,614.3 1329.8,617.6 1326.4,620.8 1322.8,623.7 1319.1,626 1315.1,627.6 1310.9,628.7 1306.6,629.3 1302.4,629.4 1298.1,629.1 1293.6,628.7 1289.1,628.1 1284.5,627.5 1279.7,626.9 1274.7,626.4 1269.4,625.9 1264,626.1 1258.6,627.6 1253.8,629.6 1250.6,631.1 1248.6,632.7 1247.6,635.1 1248,637.7 1249.6,639.8 1252,640.8 1254.6,640.4 1257.7,639.1 1262.1,637.4 1266.2,636 1270.3,634.9 1275,633.9 1279.7,633.2 1284.3,632.8 1288.9,632.6 1293.5,632.5 1298,632.4 1302.5,632.2 1306.9,631.8 1311.4,630.8 1315.8,629.6 1320,627.8 1323.9,625.3 1327.7,622.3 1331.2,619 1334.5,615.6 1337.6,611.9 1340.7,608 1343.8,603.9 1346.9,599.6 1350,595.5 1353.1,591.7 1356.1,588.1 1359.3,584.6 1362.8,581.3 1366.4,578.2 1370.1,575.4 1374.1,572.8 1378.3,570.5 1382.5,568.4 1386.6,566.6 1390.8,565 1394.7,563.8 1398.8,563 1402.7,562.6 1405.9,562.2 1408.2,561.9 1409.8,561.6 1410.8,561.5 1411.4,561.2 1411.8,560.8 1411.9,560.2 1411.7,559.6 1411.2,559.2Z"/><path d="M1336.4,532.3 1336.3,533.7 1336.2,535.8 1336.6,538.5 1337.7,542 1339.2,545.9 1340.6,549.9 1341.8,554 1342.9,558.2 1343.8,562.4 1344.8,566.6 1345.6,570.8 1346.2,574.8 1346.4,578.5 1346.4,582 1346.1,585.5 1345.4,589.4 1344.5,593.4 1343.8,596.2 1343.9,596.7 1344.1,597.1 1344.6,597.4 1345.1,597.4 1345.6,597.1 1345.8,596.6 1346.4,593.8 1347.3,589.8 1347.9,585.7 1348.1,582 1348.1,578.4 1347.9,574.6 1347.3,570.5 1346.5,566.2 1345.5,562 1344.5,557.8 1343.5,553.5 1342.4,549.4 1341.2,545.2 1340.1,541.2 1339.2,537.9 1338.8,535.5 1338.6,533.6 1338.5,532.3 1338.4,531.8 1338,531.4 1337.5,531.3 1337,531.4 1336.6,531.8Z"/><path d="M1353.5,640.9 1352.5,640.4 1350.8,639.6 1348.6,638.8 1345.7,638 1342.2,637.1 1338.6,636.3 1335,635.7 1331.3,635.2 1327.6,634.8 1323.9,634.5 1320.3,634.3 1316.7,634 1312.6,633.3 1308.6,632.4 1305.7,631.7 1305.2,631.8 1304.8,632 1304.5,632.5 1304.6,633 1304.8,633.4 1305.3,633.6 1308.2,634.2 1312.3,635 1316.4,635.7 1320.2,636 1323.8,636.2 1327.5,636.5 1331.1,636.9 1334.8,637.4 1338.3,638 1341.7,639 1345,640.1 1347.8,641.1 1350,641.8 1351.7,642.3 1352.8,642.7 1353.3,642.7 1353.8,642.5 1354.1,642.1 1354.1,641.6 1353.9,641.2Z"/><path d="M886.8,637.7 888.2,636.3 890.2,634.3 892.6,632.4 895.6,630.5 899.1,628.7 903.2,627.2 907.9,626.1 913.2,625.3 918.9,624.9 924.8,625 931.1,625.4 937.4,626.4 943.5,628 949.7,630 955.9,632.6 962.1,635.8 968.3,639.6 974.5,643.5 980.8,647.5 987,651.7 993.2,656 999.5,660.2 1005.8,664.4 1011.9,668.5 1017.9,672.3 1023.6,676.1 1029,679.4 1034,682.4 1038.5,685 1041.5,686.8 1042.4,687 1043.3,686.8 1043.9,686.1 1044.1,685.2 1043.8,684.4 1043.1,683.8 1039.9,682.3 1035.3,680 1030.2,677.3 1024.9,674.1 1019.1,670.4 1013.1,666.5 1007,662.6 1000.7,658.4 994.4,654.2 988.2,650 981.9,645.8 975.7,641.7 969.4,637.7 963.1,634 956.8,630.7 950.5,628.1 944.1,625.9 937.8,624.4 931.4,623.4 924.9,622.9 918.8,622.8 913,623 907.5,623.5 902.5,624.5 898,625.9 894.1,627.7 890.7,629.7 888,632 886.1,634.4 884.8,636 884.5,636.6 884.6,637.3 884.9,637.9 885.5,638.1 886.2,638.1Z"/><path d="M991,758.3 991.4,756.6 992.1,754.1 993.2,751.3 994.9,748 997,744.1 999.4,740 1001.8,736 1004.4,731.9 1007.2,727.6 1010.6,723 1014.4,718.2 1018.1,713.6 1021.7,709.2 1025.3,705.1 1029,701.1 1033.2,697.2 1037.5,693.5 1040.5,690.9 1040.9,690.3 1040.9,689.5 1040.6,688.8 1040,688.4 1039.2,688.4 1038.5,688.7 1035.7,691.5 1031.6,695.5 1027.4,699.7 1023.8,703.7 1020.2,707.9 1016.6,712.3 1012.8,717 1009,721.8 1005.6,726.4 1002.7,730.8 1000.1,734.9 997.6,738.9 995,742.8 992.4,746.6 990.4,750.1 989.3,753.3 988.8,756 988.6,757.8 988.6,758.5 989,759 989.6,759.2 990.2,759.2 990.7,758.9Z"/><path d="M1040.3,687.3 1044.2,687.3 1049.7,687.4 1055.3,687.3 1060.5,687.2 1065.8,686.9 1071.1,686.5 1076.4,685.9 1081.6,685.1 1086.8,684.1 1092.1,683.2 1097.3,682.1 1102.3,680.9 1106.7,679.4 1110.8,677.8 1114.8,676.1 1118.8,674.1 1122.4,672.3 1125.7,671.1 1130,670 1135.1,668.9 1138.8,668.2 1141.2,667.1 1142.7,664.9 1142.9,662.3 1141.8,660 1139.6,658.5 1137,658.3 1133.2,658.9 1127.6,659.9 1122,661.6 1117.6,664.3 1114.3,667.3 1111.2,669.9 1107.8,672 1104.4,674 1100.6,675.8 1096.1,677.4 1091.1,678.7 1086,679.9 1080.9,681 1075.8,681.8 1070.7,682.5 1065.6,682.9 1060.4,683.1 1055.3,683.3 1049.7,683.3 1044.2,683.2 1040.4,683.1 1039.3,683.4 1038.6,684.1 1038.3,685.2 1038.5,686.2 1039.3,687Z"/><path d="M1178.9,704.6 1178.6,709.5 1178.3,716.4 1177.8,724.2 1177.2,732.1 1176.5,738.9 1175.1,746.2 1173.3,753.2 1171.4,759.8 1169.9,765.8 1168.6,772.1 1167.8,777.2 1166.7,782.5 1165.2,788.7 1163.4,795.1 1161.3,801.6 1159.1,808 1156.6,814.4 1153.9,820.3 1151.1,825.7 1148.1,830.7 1144.8,835.9 1141.1,841.5 1137,847.3 1132.5,853.1 1127.7,858.9 1122.4,864.7 1117.2,870.4 1111.9,875.8 1106.6,881.2 1101.6,885.9 1097,889.9 1092.8,893.5 1089,896.7 1085.7,899.8 1083,902.5 1081.2,904.3 1080.7,905.2 1080.7,906.1 1081.2,906.8 1082,907.3 1082.9,907.3 1083.7,906.8 1085.5,904.9 1088.1,902.2 1091.2,899.1 1094.8,895.9 1099.1,892.3 1103.7,888.2 1108.7,883.4 1114.1,878 1119.4,872.5 1124.8,866.9 1130.1,861 1135.1,855.2 1139.7,849.3 1143.8,843.5 1147.7,837.8 1151.1,832.6 1154.2,827.4 1157.2,821.9 1160,815.8 1162.6,809.4 1165,802.9 1167.3,796.4 1169.4,789.9 1171.3,783.7 1172.8,778.3 1174,773.4 1175.9,767.4 1177.9,761.9 1180.3,755.5 1182.9,748.5 1185.5,741 1187.6,734.1 1189.8,726.3 1192,718.6 1193.8,712 1195.1,707.4 1194.7,703.1 1192.2,699.6 1188.4,697.9 1184.1,698.3 1180.6,700.8Z"/><path d="M968.8,902.7 970,902.6 971.8,902.6 974.2,902.9 977.7,904.1 982.3,905.7 987.1,907.3 992.1,908.8 997.4,910.2 1003,911.3 1009.1,912.1 1015.5,912.7 1022,912.9 1028.3,912.6 1034.6,912.1 1040.9,911.3 1047.2,910.4 1053.6,909.3 1059.6,908.2 1065.3,906.8 1070.5,905.4 1075.1,904.2 1079.2,903.4 1082.6,902.7 1085,902.3 1085.7,901.9 1086.2,901.2 1086.2,900.4 1085.8,899.6 1085.1,899.1 1084.3,899.1 1081.9,899.7 1078.5,900.5 1074.5,901.6 1069.8,903 1064.7,904.5 1059.1,905.9 1053.2,907.1 1046.9,908.3 1040.6,909.2 1034.4,910 1028.1,910.5 1022,910.7 1015.7,910.5 1009.4,910 1003.4,909.2 997.9,908.1 992.7,906.7 987.9,905.2 983.2,903.3 978.8,901.4 974.9,899.9 971.9,899.6 969.7,899.9 968.4,900.1 967.8,900.4 967.4,900.9 967.3,901.6 967.6,902.2 968.1,902.6Z"/><path d="M1081,905.9 1079.6,909.9 1077.4,915.6 1075.3,921.3 1073.3,926.5 1071.3,931.7 1069.4,937.3 1067.4,944 1065.4,951 1064,956.1 1063.7,957 1063.5,956.6 1063.2,958.1 1062.3,963.1 1061.1,970 1060.1,976.9 1059.5,983.2 1059.1,989.5 1058.9,995.8 1059,1002.1 1059.3,1008.4 1059.8,1014.7 1060.5,1020.9 1061.4,1027.2 1062.5,1033.5 1063.8,1039.8 1065.4,1046.1 1067.2,1052.4 1069.3,1058.7 1071.7,1065 1074.3,1071.2 1077.1,1077.2 1080,1083 1082.9,1088.5 1086,1093.7 1089,1098.6 1091.4,1102.6 1093.2,1105.2 1094.4,1106.9 1095.1,1108 1095.6,1108.4 1096.2,1108.5 1096.8,1108.3 1097.1,1107.8 1097.2,1107.2 1097,1106.6 1096.2,1105.6 1094.9,1104 1093.2,1101.4 1090.7,1097.6 1087.7,1092.7 1084.6,1087.5 1081.7,1082.1 1078.8,1076.4 1076.1,1070.4 1073.5,1064.3 1071.2,1058 1069.1,1051.8 1067.3,1045.6 1065.7,1039.3 1064.4,1033.1 1063.3,1026.9 1062.5,1020.7 1061.8,1014.5 1061.3,1008.2 1060.9,1002 1060.8,995.8 1061,989.6 1061.5,983.4 1062.1,977.2 1063.1,970.3 1064.3,963.5 1065.2,958.5 1065.4,957.4 1065.2,958.3 1066,956.7 1067.4,951.5 1069.4,944.6 1071.4,937.9 1073.4,932.5 1075.5,927.3 1077.6,922.2 1080,916.6 1082.4,911 1084.1,907.1 1084.2,906.2 1083.9,905.5 1083.2,904.9 1082.3,904.8 1081.6,905.2Z"/><path d="M1153.9,839.1 1154,843.5 1154.1,849.9 1154.6,856.5 1155.4,862.7 1156.5,869.1 1157.8,875.4 1159.4,881.7 1161.2,888.1 1163.3,894.3 1165.8,900.3 1168.5,906.2 1171.2,911.6 1173.9,916.3 1176.5,920.5 1179,924.2 1181.5,927.3 1183.7,929.9 1185.6,931.9 1186.8,933.4 1187.7,934.4 1188.4,935.1 1188.8,935.4 1189.3,935.5 1189.8,935.3 1190.1,934.9 1190.2,934.4 1190,933.9 1189.6,933.1 1188.8,931.9 1187.5,930.2 1185.5,928.2 1183.1,925.9 1180.6,923 1178.1,919.4 1175.5,915.3 1172.9,910.7 1170.2,905.4 1167.6,899.6 1165.2,893.6 1163.1,887.5 1161.3,881.2 1159.7,875 1158.4,868.7 1157.4,862.4 1156.6,856.3 1156.3,849.8 1156.2,843.5 1156.1,839.1 1156,838.5 1155.6,838.1 1155,837.9 1154.4,838.1 1154,838.5Z"/><path d="M1406.7,709.5 1405.2,709.6 1403,709.8 1400.1,710.2 1396.5,710.9 1392.2,711.7 1387.9,713 1383.7,714.5 1379.5,716.4 1375.3,718.7 1371.1,721.6 1366.9,724.8 1362.7,728.2 1358.5,731.8 1354.3,735.6 1350.2,739.1 1346,742.5 1341.9,745.6 1337.8,748.4 1333.7,750.8 1329.5,752.8 1325.4,754.5 1321.3,755.9 1317.2,756.8 1313.1,757.5 1308.9,757.7 1304.6,757.6 1300.7,757.1 1297.4,756.3 1294.5,755.1 1291.5,753.5 1288.4,751.5 1285.2,749.2 1282.3,746.8 1279.6,744.2 1277.1,741.3 1274.5,738.3 1271.5,734.6 1268.6,730.6 1266.5,727.8 1265.2,726.8 1263.6,726.7 1262.1,727.3 1261.2,728.7 1261,730.3 1261.7,731.7 1264.1,734.3 1267.5,738 1270.9,741.5 1273.8,744.4 1276.7,747.1 1279.8,749.7 1283.1,752.1 1286.6,754.4 1290.1,756.2 1293.4,757.7 1296.7,758.8 1300.3,759.6 1304.5,759.9 1308.9,759.9 1313.3,759.6 1317.6,758.9 1321.9,757.8 1326.1,756.4 1330.4,754.6 1334.6,752.5 1338.8,750.1 1343.1,747.2 1347.2,744 1351.4,740.6 1355.6,737 1359.8,733.3 1363.9,729.7 1368.1,726.3 1372.2,723.1 1376.3,720.4 1380.4,718.2 1384.5,716.4 1388.5,715 1392.7,714.1 1396.9,713.5 1400.6,713 1403.3,712.5 1405.5,712.2 1406.9,711.9 1407.5,711.7 1407.9,711.2 1408,710.6 1407.8,710 1407.3,709.6Z"/><path d="M1235.4,724.7 1239.7,728.2 1245.9,733.2 1251.7,738.1 1256.5,742 1260.8,745.6 1264.9,749.2 1269,752.8 1273.1,756.6 1277.2,760.3 1281.1,763.9 1284.9,767.5 1288.8,771.4 1292.9,775.7 1297.2,780.4 1301.5,785.4 1305.7,790.8 1310,796.7 1314.2,802.6 1318.5,808.3 1322.8,814.1 1327,819.8 1331.3,825.7 1335.6,831.5 1339.7,837.1 1343.7,842.6 1347.5,847.9 1350.9,852.7 1353.9,856.9 1356.5,860.5 1358.7,863.7 1360.6,866.5 1362.2,869 1363.3,870.6 1363.9,871.1 1364.7,871.3 1365.4,871 1366,870.4 1366.1,869.6 1365.8,868.8 1364.7,867.2 1362.9,864.9 1360.9,862.1 1358.6,859 1356,855.4 1353.1,851.2 1349.7,846.4 1346,841 1342.1,835.4 1338,829.7 1333.8,823.9 1329.6,818 1325.4,812.2 1321.2,806.4 1317,800.6 1312.8,794.6 1308.6,788.7 1304.4,783.1 1300.1,777.9 1295.9,773 1291.7,768.5 1287.9,764.4 1284.3,760.7 1280.6,756.9 1277,752.8 1273.2,748.6 1269.3,744.4 1265.1,740.6 1260.9,736.9 1256.7,732.8 1251.9,727.2 1246.9,721.1 1243.5,716.7 1240.9,715.2 1238,715.2 1235.5,716.6 1234,719.2 1233.9,722.1Z"/><path d="M1362.1,871.9 1363.1,875.7 1364.5,881.1 1365.4,886.8 1365.6,892.2 1365.3,898 1365.1,904.5 1364.9,911.9 1364.6,919.9 1364.3,927.9 1364,935.7 1363.5,943.6 1363.3,951.4 1363.2,959.3 1363.3,967.1 1363.6,974.9 1364.1,982.8 1364.9,990.6 1365.9,998.5 1367.2,1006.3 1368.8,1014.1 1370.6,1022 1372.2,1027.9 1374,1033.9 1375.8,1039.8 1377.7,1045.5 1380.3,1052.6 1383,1059.4 1385.5,1065.9 1388.1,1072.1 1390.5,1078 1392.5,1083 1394,1087 1395.1,1090.1 1395.8,1092.2 1396.2,1092.7 1396.8,1093 1397.5,1092.9 1398,1092.5 1398.3,1091.9 1398.2,1091.2 1397.3,1089.2 1396,1086.2 1394.4,1082.3 1392.3,1077.3 1389.9,1071.4 1387.3,1065.1 1384.8,1058.7 1382.1,1052 1379.5,1044.9 1377.7,1039.2 1375.8,1033.4 1374.1,1027.4 1372.5,1021.5 1370.7,1013.7 1369.2,1005.9 1367.9,998.2 1366.8,990.4 1366.1,982.6 1365.5,974.8 1365.2,967 1365.1,959.3 1365.2,951.5 1365.5,943.7 1365.9,935.9 1366.3,928 1366.6,920 1366.9,912 1367.1,904.6 1367.4,898.1 1367.6,892.2 1367.4,886.6 1366.6,880.7 1365.4,875.2 1364.5,871.3 1364.2,870.8 1363.7,870.4 1363,870.4 1362.5,870.7 1362.2,871.3Z"/><path d="M1364.6,870.3 1366.7,873 1369.7,877 1373.2,881.1 1377.3,885 1381.8,888.9 1386,892.2 1389.7,894.4 1393,895.9 1396.8,897.6 1401.5,900.1 1406.8,902.8 1412.6,905.5 1419,907.8 1425.9,909.9 1433,911.8 1440.3,913.3 1447.6,914.5 1455,915.7 1462.3,916.7 1469.6,917.6 1476.8,918.8 1484.1,920.4 1491.3,922.2 1498.6,924.2 1506,926.5 1513.4,928.9 1520.4,931.3 1527,933.6 1533.2,936 1539.1,938.3 1544.6,940.5 1549.8,942.7 1554.8,944.5 1559.9,946 1564.6,947.2 1568,948 1568.6,948 1569.1,947.6 1569.4,947.1 1569.4,946.5 1569,945.9 1568.5,945.6 1565.2,944.9 1560.4,943.9 1555.4,942.5 1550.6,940.7 1545.4,938.5 1539.9,936.3 1534,934 1527.7,931.7 1521.1,929.3 1514,927 1506.6,924.5 1499.2,922.3 1491.9,920.3 1484.5,918.4 1477.2,916.8 1469.9,915.6 1462.6,914.7 1455.3,913.7 1448,912.5 1440.6,911.3 1433.5,909.8 1426.5,907.9 1419.6,905.9 1413.3,903.6 1407.7,901 1402.5,898.3 1397.8,895.8 1393.9,894 1390.7,892.5 1387.3,890.5 1383.1,887.2 1378.8,883.4 1374.9,879.5 1371.6,875.5 1368.8,871.5 1366.8,868.7 1366.3,868.3 1365.6,868.1 1364.9,868.4 1364.5,868.9 1364.4,869.6Z"/><path d="M1567.9,946.8 1571.1,945 1575.7,942.4 1580.6,939.8 1585.7,937.4 1591.1,934.9 1596.4,932 1601.4,928.5 1606.1,924.7 1610.6,920.9 1614.7,917.1 1618.4,913.2 1621.5,910 1624,907.5 1625.8,905.7 1627,904.4 1627.2,904 1627.2,903.5 1626.9,903 1626.5,902.8 1626,902.8 1625.5,903 1624.3,904.3 1622.6,906.2 1620.2,908.7 1617.2,912 1613.5,915.8 1609.4,919.7 1605,923.4 1600.3,927.1 1595.4,930.4 1590.3,933.2 1584.9,935.7 1579.8,938.1 1574.7,940.5 1570,942.8 1566.7,944.4 1566.2,944.8 1565.9,945.5 1566.1,946.2 1566.6,946.7 1567.2,946.9Z"/><path d="M1566.4,948.1 1569.3,950.7 1573.5,954.4 1577.9,958.4 1582,962.3 1586.2,966.4 1590.5,970.9 1594.7,975.8 1598.9,981.1 1603,986.4 1606.8,991.7 1610.5,996.9 1614,1002 1617.4,1007.2 1620.7,1012.1 1623.3,1016.1 1624.9,1018.5 1625.8,1019.9 1626.4,1020.8 1626.7,1021.1 1627.2,1021.2 1627.6,1021 1627.9,1020.7 1628,1020.2 1627.9,1019.8 1627.3,1018.9 1626.4,1017.5 1624.8,1015.1 1622.2,1011.2 1618.9,1006.2 1615.4,1001.1 1611.9,996 1608.3,990.7 1604.4,985.4 1600.4,980 1596.1,974.6 1591.9,969.6 1587.6,965.1 1583.4,960.9 1579.3,956.9 1575.1,952.8 1571,948.9 1568.2,946.1 1567.6,945.8 1566.9,945.8 1566.3,946.2 1566,946.8 1566,947.5Z"/></g>
<g mask="url(#nm)"><rect x="1020" y="490" width="380" height="370" fill="url(#gt)"/><ellipse cx="1262" cy="700" rx="26" ry="50" fill="#a9437f" opacity="0.55" filter="url(#bl4)" transform="rotate(12 1262 700)"/><ellipse cx="1177" cy="648" rx="40" ry="30" fill="#f0d6e6" opacity="0.68" filter="url(#bl6)" transform="rotate(-40 1177 648)"/><ellipse cx="1207" cy="679" rx="46.5" ry="50" fill="url(#gn)" filter="url(#bl2)"/></g></g></svg>
</body></html>
